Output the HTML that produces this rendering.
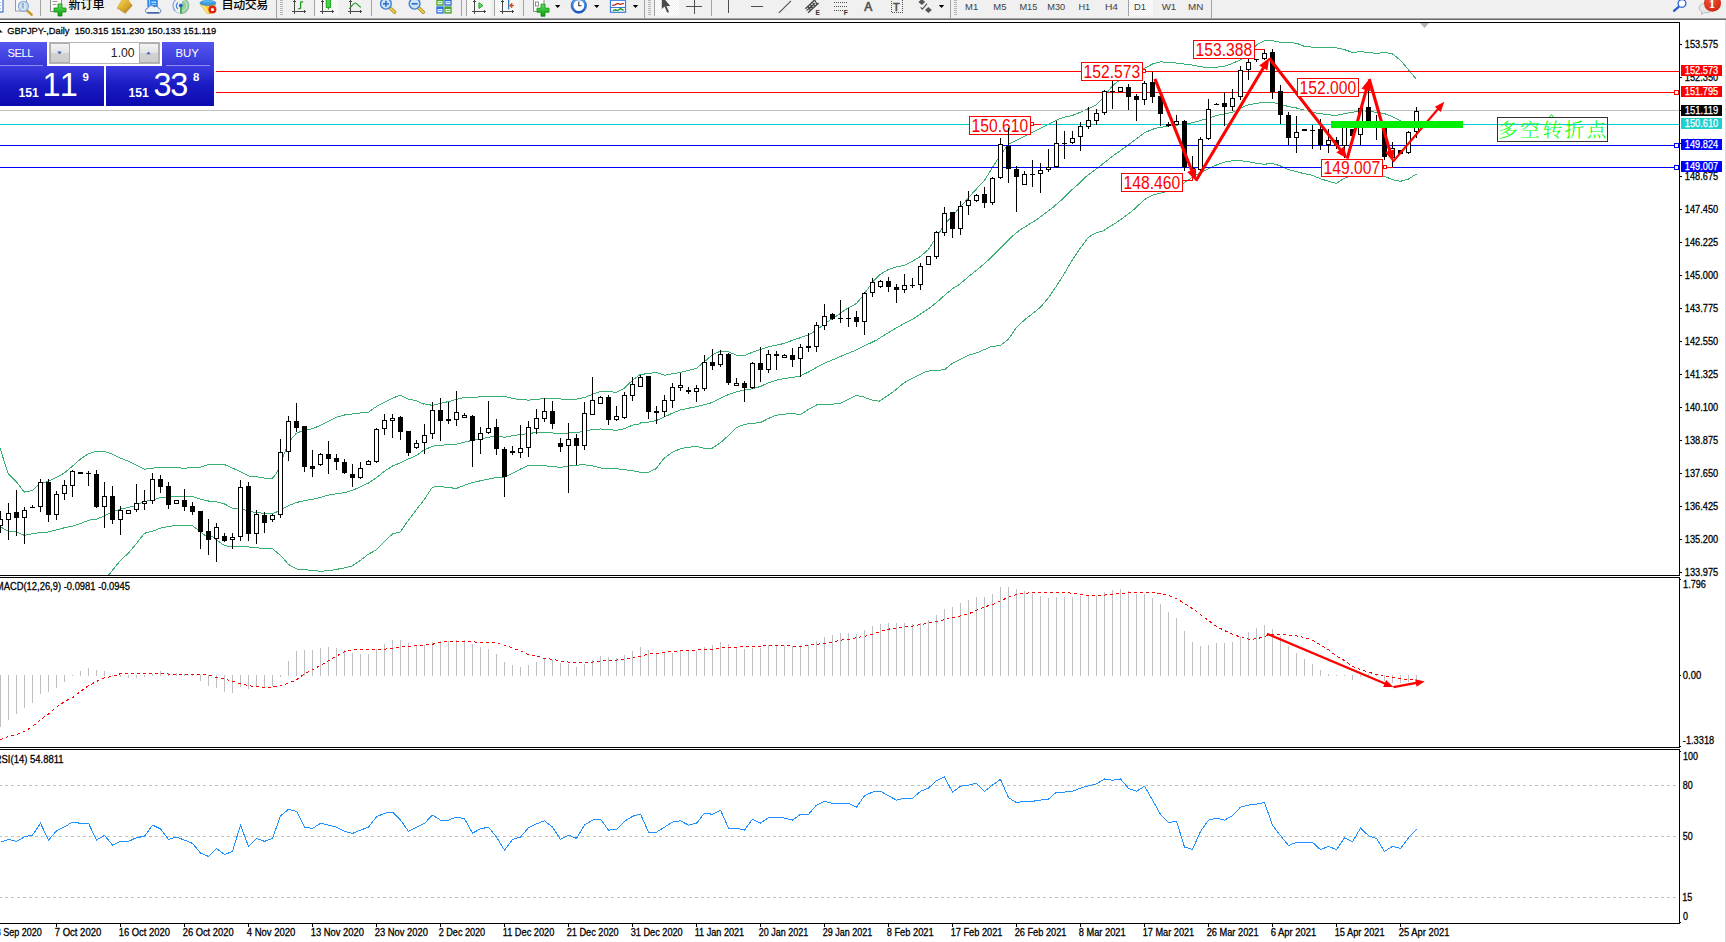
<!DOCTYPE html>
<html><head><meta charset="utf-8"><title>GBPJPY Daily</title>
<style>
html,body{margin:0;padding:0;background:#fff;}
body{width:1726px;height:942px;overflow:hidden;position:relative;font-family:"Liberation Sans","Noto Sans CJK SC",sans-serif;}
#tb{position:absolute;left:0;top:0;width:1726px;height:18px;background:#f0f0f0;overflow:hidden}
#tbl1{position:absolute;left:0;top:18px;width:1726px;height:1px;background:#a4a4a4}
#tbl2{position:absolute;left:0;top:19px;width:1726px;height:1px;background:#696969}
#redge{position:absolute;left:1725px;top:20px;width:1px;height:922px;background:#dcdcdc}
.t{position:absolute;white-space:nowrap;color:#000;font-size:12px;line-height:12px;font-weight:500}
.tf{position:absolute;white-space:nowrap;color:#444;font-size:10px;line-height:10px;top:1.5px}
#oct{position:absolute;left:0;top:42px;width:214px;height:64px;}
#oct div{position:absolute;box-sizing:border-box}
</style></head><body>
<svg id="chart" width="1726" height="942" viewBox="0 0 1726 942" style="position:absolute;left:0;top:0" font-family='"Liberation Sans", "Noto Sans CJK SC", sans-serif'>
<style>.bt text, text.bt{stroke:#000;stroke-width:0.28px}</style>
<defs>
<clipPath id="cm"><rect x="0" y="23" width="1679" height="552"/></clipPath>
<clipPath id="c2"><rect x="0" y="578" width="1679" height="169"/></clipPath>
<clipPath id="c3"><rect x="0" y="750" width="1679" height="173"/></clipPath>
</defs>
<g shape-rendering="crispEdges" fill="#000">
<rect x="0" y="22" width="1680" height="1"/>
<rect x="1679" y="22" width="1" height="902"/>
<rect x="0" y="575" width="1680" height="1"/>
<rect x="0" y="577" width="1680" height="1"/>
<rect x="0" y="747" width="1680" height="1"/>
<rect x="0" y="749" width="1680" height="1"/>
<rect x="0" y="923" width="1680" height="1"/>
<rect x="1679" y="576" width="1" height="1" fill="#fff"/><rect x="1679" y="748" width="1" height="1" fill="#fff"/>
</g>
<g clip-path="url(#cm)">
<polyline points="0.0,448.0 8.1,473.4 16.4,481.9 24.4,492.1 32.5,490.4 40.3,483.2 48.4,481.5 56.5,477.3 64.3,473.0 72.4,466.2 80.5,459.0 88.6,453.7 96.4,451.4 104.5,451.4 112.6,454.3 120.4,458.1 128.5,461.3 136.5,465.4 144.4,469.2 152.5,468.1 160.5,467.5 168.4,467.1 176.5,467.7 184.5,468.3 192.6,467.5 200.5,467.1 208.5,464.5 216.6,464.3 224.5,464.5 232.4,468.1 240.5,471.7 248.5,476.0 256.4,476.8 264.5,478.1 272.5,478.3 276.3,473.4 280.4,464.9 284.4,453.3 288.4,443.7 292.7,437.3 296.5,433.1 304.4,430.3 312.4,428.8 320.5,425.2 328.4,421.4 336.4,417.2 344.5,415.0 352.4,414.0 360.4,412.9 368.5,412.3 376.4,406.5 384.4,402.3 392.5,398.1 400.4,395.3 408.4,399.1 416.5,400.6 424.0,404.3 424.4,403.8 432.5,405.4 440.4,403.3 448.4,401.6 456.5,399.4 464.3,397.5 472.4,397.3 480.5,396.9 488.3,396.5 496.4,396.5 504.5,396.5 512.6,398.4 520.4,399.7 528.5,400.1 536.6,399.4 544.4,398.4 552.5,398.6 560.5,399.0 568.4,399.4 576.5,399.2 584.5,397.5 592.4,394.3 600.5,391.6 608.5,391.6 616.6,392.4 624.5,388.0 632.5,380.3 640.5,374.2 640.6,374.6 648.5,373.4 656.4,372.5 664.5,375.3 672.5,373.8 680.4,372.3 688.5,370.4 696.5,368.3 704.4,361.7 712.4,354.7 720.5,351.1 728.4,351.9 736.4,355.1 744.5,355.7 752.4,352.1 760.4,349.4 768.5,346.8 776.4,345.1 784.4,343.4 792.5,340.2 800.4,337.7 808.4,334.9 816.5,330.3 824.4,323.9 832.4,318.6 840.5,313.3 848.0,307.8 848.4,308.0 856.5,303.5 864.4,294.0 872.4,282.3 880.5,274.2 888.3,269.5 896.4,267.0 904.5,265.3 912.3,261.5 920.4,256.4 928.5,249.4 936.6,236.6 944.4,224.9 952.5,215.4 960.6,206.9 968.4,197.8 976.5,188.8 984.5,180.3 992.4,167.6 1000.5,154.9 1008.5,144.2 1060.0,118.6 1064.5,117.1 1072.5,115.4 1080.4,112.3 1088.5,108.6 1096.5,104.8 1104.4,96.3 1112.5,85.7 1120.5,79.3 1128.4,75.1 1136.4,71.3 1144.5,68.3 1152.4,64.0 1160.4,61.9 1168.5,62.3 1176.4,63.0 1184.4,64.0 1192.5,65.1 1200.4,66.6 1208.4,67.7 1216.5,67.2 1224.4,66.2 1232.4,63.4 1240.5,59.8 1248.4,54.9 1256.4,44.9 1264.5,40.7 1272.0,40.7 1272.4,40.7 1280.5,42.2 1288.4,42.6 1296.4,43.2 1304.5,46.4 1312.3,47.1 1320.4,47.5 1328.5,47.5 1336.3,47.9 1344.4,49.6 1352.5,52.4 1360.6,51.7 1368.4,52.4 1376.5,53.4 1384.6,52.4 1392.4,53.9 1400.5,60.2 1408.5,69.8 1416.4,79.3" fill="none" stroke="#38ae70" stroke-width="1" shape-rendering="crispEdges"/>
<polyline points="0.0,526.5 8.1,531.2 16.4,532.0 24.4,535.4 32.5,533.7 40.3,532.5 48.4,532.0 56.5,529.9 64.3,527.8 72.4,526.1 80.5,523.6 88.6,520.2 96.4,519.1 104.5,515.9 112.6,511.7 120.4,509.1 128.5,507.4 136.5,505.3 144.4,501.5 152.5,500.2 160.5,497.4 168.4,497.2 176.5,496.2 184.5,496.2 192.6,496.4 200.5,499.3 208.5,501.0 212.0,501.0 216.5,501.9 224.5,504.0 232.4,508.1 240.5,508.7 248.5,511.2 256.4,512.5 264.5,513.4 272.5,513.4 280.4,510.6 284.2,508.1 288.4,505.7 296.5,502.5 304.4,500.6 312.4,499.3 320.5,497.4 328.4,495.1 336.4,493.8 344.5,492.6 352.4,490.4 360.4,486.8 368.5,483.0 376.4,477.7 384.4,471.3 392.5,466.0 400.4,462.8 408.4,459.0 416.5,455.4 424.0,450.0 432.5,446.2 440.4,445.3 448.4,444.7 456.5,444.2 464.3,442.1 472.4,440.4 480.5,438.9 488.3,437.2 496.4,436.2 504.5,437.2 512.6,435.8 520.4,434.5 528.5,433.6 536.6,432.4 544.4,432.4 552.5,433.0 560.5,433.6 568.4,433.0 576.5,432.4 584.5,431.5 592.4,429.4 600.5,429.0 608.5,429.8 616.6,430.2 624.5,428.7 632.5,425.1 640.5,423.7 640.6,423.0 648.5,422.2 656.4,420.5 664.5,416.9 672.5,413.1 680.4,409.9 688.5,408.2 696.5,406.7 704.4,404.6 712.4,402.5 720.5,398.2 728.4,394.6 736.4,391.8 744.5,390.1 752.4,388.7 760.4,386.5 768.5,382.7 776.4,380.2 784.4,378.5 792.5,377.4 800.4,375.9 808.4,372.1 816.5,367.4 824.4,363.2 832.4,360.0 840.5,356.4 848.4,353.2 856.0,350.0 876.7,340.0 880.5,337.5 888.3,332.8 896.4,327.9 904.5,323.3 912.3,319.4 920.4,314.1 928.5,308.8 936.6,302.5 944.4,295.4 952.5,288.7 960.0,284.0 970.6,274.9 981.2,266.4 991.9,256.8 1002.5,246.2 1013.1,235.6 1019.5,230.3 1028.0,225.0 1036.5,219.7 1045.0,213.3 1053.5,206.9 1062.0,199.5 1070.5,191.0 1079.0,183.6 1085.5,177.0 1098.2,167.5 1113.1,155.8 1128.0,145.2 1144.9,132.4 1155.6,128.2 1168.5,126.1 1187.4,123.9 1200.2,120.7 1217.1,115.4 1232.4,112.3 1240.5,108.0 1248.4,104.8 1256.4,103.3 1264.5,102.3 1272.0,102.3 1272.4,102.3 1280.5,104.4 1288.4,106.5 1296.4,108.0 1304.5,110.1 1312.3,112.3 1320.4,113.7 1328.5,114.8 1336.3,115.4 1344.4,113.7 1352.5,112.3 1360.6,110.8 1368.4,111.2 1376.5,112.3 1384.6,113.7 1392.4,116.5 1400.5,120.7 1408.5,123.9 1416.4,126.5" fill="none" stroke="#38ae70" stroke-width="1" shape-rendering="crispEdges"/>
<polyline points="107.2,576.4 109.4,574.3 112.6,570.1 120.4,560.5 128.5,553.1 136.5,543.5 144.4,533.3 152.5,531.2 160.5,528.2 168.4,526.5 176.5,525.3 184.5,525.3 192.6,525.7 200.5,531.8 208.5,538.2 212.0,536.1 216.5,539.7 224.5,545.6 232.4,547.1 240.5,546.3 248.5,546.9 256.4,547.8 264.5,548.4 272.5,548.8 280.4,555.2 288.4,564.3 296.5,569.0 304.4,569.6 312.4,570.5 320.5,571.3 328.4,570.7 336.4,569.4 344.5,567.9 352.4,565.8 360.4,560.5 368.5,554.1 376.4,549.9 384.4,541.4 392.5,534.0 400.4,531.8 408.4,520.2 416.5,509.5 424.0,499.9 432.5,487.1 440.4,486.5 448.4,487.6 456.5,488.4 464.3,485.4 472.4,482.5 480.5,480.8 488.3,479.1 496.4,477.6 504.5,477.0 512.6,473.3 520.4,469.1 528.5,465.3 536.6,465.1 544.4,465.9 552.5,466.3 560.5,467.6 568.4,465.9 576.5,465.1 584.5,464.8 592.4,465.9 600.5,468.0 608.5,468.5 616.6,468.7 624.5,469.7 632.5,470.8 640.6,472.3 648.4,472.3 656.1,468.7 663.7,458.5 672.6,452.1 681.6,448.3 695.6,446.3 704.5,448.3 712.2,448.3 722.4,441.2 728.4,435.4 736.4,427.5 744.5,424.3 752.4,423.3 760.4,422.6 768.5,418.4 776.4,415.2 784.4,414.1 792.5,413.5 800.4,414.6 808.4,409.5 816.5,405.0 824.4,404.6 832.4,404.2 840.5,403.1 848.4,399.3 856.0,395.4 862.6,396.6 871.5,399.9 879.1,401.2 883.2,398.6 892.7,392.2 904.4,382.6 916.1,376.3 925.7,371.6 933.1,370.3 944.3,369.9 952.2,363.5 960.7,359.3 969.2,355.0 976.6,352.9 984.1,349.7 991.5,346.5 1000.4,345.5 1008.5,339.1 1016.5,327.4 1024.4,320.0 1032.5,313.6 1040.5,307.2 1048.4,297.7 1056.5,286.0 1064.5,273.3 1072.6,259.5 1080.5,247.8 1088.5,237.2 1096.6,232.5 1102.5,231.2 1117.3,222.0 1132.2,211.0 1144.9,199.3 1152.4,195.1 1161.9,192.9 1172.6,189.8 1183.2,183.4 1195.9,174.9 1208.7,168.5 1217.1,164.7 1224.4,162.2 1232.4,160.7 1240.5,160.7 1248.4,161.7 1256.4,163.2 1264.5,164.3 1272.0,163.2 1280.5,166.0 1288.4,169.6 1296.4,171.7 1304.5,173.8 1312.3,175.3 1320.4,178.7 1328.5,181.3 1336.3,183.4 1344.4,178.1 1356.9,173.8 1371.8,173.8 1384.6,176.4 1392.4,179.6 1400.5,181.3 1408.5,179.1 1416.4,174.0" fill="none" stroke="#38ae70" stroke-width="1" shape-rendering="crispEdges"/>
<g shape-rendering="crispEdges">
<rect x="0" y="110" width="1679" height="1" fill="#c0c0c0"/>
<rect x="216" y="71" width="1463" height="1" fill="#ff0000"/>
<rect x="216" y="92" width="1463" height="1" fill="#ff0000"/>
<rect x="0" y="124" width="1679" height="1" fill="#00ced1"/>
<rect x="0" y="145" width="1679" height="1" fill="#0000ff"/>
<rect x="0" y="167" width="1679" height="1" fill="#0000ff"/>
</g>
<g shape-rendering="crispEdges">
<rect x="0" y="511" width="1" height="22" fill="#000"/>
<rect x="-2" y="519" width="5" height="7" fill="#000"/>
<rect x="-1" y="520" width="3" height="5" fill="#fff"/>
<rect x="8" y="503" width="1" height="37" fill="#000"/>
<rect x="6" y="513" width="5" height="7" fill="#000"/>
<rect x="7" y="514" width="3" height="5" fill="#fff"/>
<rect x="16" y="490" width="1" height="46" fill="#000"/>
<rect x="14" y="512" width="5" height="6" fill="#000"/>
<rect x="24" y="507" width="1" height="37" fill="#000"/>
<rect x="22" y="510" width="5" height="8" fill="#000"/>
<rect x="23" y="511" width="3" height="6" fill="#fff"/>
<rect x="32" y="505" width="1" height="3" fill="#000"/>
<rect x="30" y="507" width="5" height="1" fill="#000"/>
<rect x="40" y="479" width="1" height="33" fill="#000"/>
<rect x="38" y="482" width="5" height="25" fill="#000"/>
<rect x="39" y="483" width="3" height="23" fill="#fff"/>
<rect x="48" y="479" width="1" height="43" fill="#000"/>
<rect x="46" y="482" width="5" height="33" fill="#000"/>
<rect x="56" y="491" width="1" height="29" fill="#000"/>
<rect x="54" y="494" width="5" height="21" fill="#000"/>
<rect x="55" y="495" width="3" height="19" fill="#fff"/>
<rect x="64" y="480" width="1" height="20" fill="#000"/>
<rect x="62" y="485" width="5" height="9" fill="#000"/>
<rect x="63" y="486" width="3" height="7" fill="#fff"/>
<rect x="72" y="470" width="1" height="27" fill="#000"/>
<rect x="70" y="471" width="5" height="15" fill="#000"/>
<rect x="71" y="472" width="3" height="13" fill="#fff"/>
<rect x="80" y="472" width="1" height="2" fill="#000"/>
<rect x="78" y="472" width="5" height="2" fill="#000"/>
<rect x="88" y="471" width="1" height="15" fill="#000"/>
<rect x="86" y="473" width="5" height="1" fill="#000"/>
<rect x="96" y="470" width="1" height="38" fill="#000"/>
<rect x="94" y="474" width="5" height="33" fill="#000"/>
<rect x="104" y="482" width="1" height="46" fill="#000"/>
<rect x="102" y="496" width="5" height="11" fill="#000"/>
<rect x="103" y="497" width="3" height="9" fill="#fff"/>
<rect x="112" y="486" width="1" height="38" fill="#000"/>
<rect x="110" y="496" width="5" height="24" fill="#000"/>
<rect x="120" y="506" width="1" height="29" fill="#000"/>
<rect x="118" y="510" width="5" height="10" fill="#000"/>
<rect x="119" y="511" width="3" height="8" fill="#fff"/>
<rect x="128" y="510" width="1" height="4" fill="#000"/>
<rect x="126" y="510" width="5" height="4" fill="#000"/>
<rect x="127" y="511" width="3" height="2" fill="#fff"/>
<rect x="136" y="484" width="1" height="28" fill="#000"/>
<rect x="134" y="503" width="5" height="7" fill="#000"/>
<rect x="135" y="504" width="3" height="5" fill="#fff"/>
<rect x="144" y="490" width="1" height="20" fill="#000"/>
<rect x="142" y="501" width="5" height="3" fill="#000"/>
<rect x="143" y="502" width="3" height="1" fill="#fff"/>
<rect x="152" y="473" width="1" height="31" fill="#000"/>
<rect x="150" y="479" width="5" height="22" fill="#000"/>
<rect x="151" y="480" width="3" height="20" fill="#fff"/>
<rect x="160" y="475" width="1" height="18" fill="#000"/>
<rect x="158" y="479" width="5" height="8" fill="#000"/>
<rect x="168" y="482" width="1" height="27" fill="#000"/>
<rect x="166" y="486" width="5" height="19" fill="#000"/>
<rect x="176" y="500" width="1" height="4" fill="#000"/>
<rect x="174" y="500" width="5" height="4" fill="#000"/>
<rect x="175" y="501" width="3" height="2" fill="#fff"/>
<rect x="184" y="489" width="1" height="22" fill="#000"/>
<rect x="182" y="500" width="5" height="7" fill="#000"/>
<rect x="192" y="502" width="1" height="13" fill="#000"/>
<rect x="190" y="506" width="5" height="6" fill="#000"/>
<rect x="200" y="511" width="1" height="38" fill="#000"/>
<rect x="198" y="511" width="5" height="21" fill="#000"/>
<rect x="208" y="519" width="1" height="36" fill="#000"/>
<rect x="206" y="531" width="5" height="9" fill="#000"/>
<rect x="216" y="523" width="1" height="39" fill="#000"/>
<rect x="214" y="527" width="5" height="12" fill="#000"/>
<rect x="215" y="528" width="3" height="10" fill="#fff"/>
<rect x="224" y="533" width="1" height="9" fill="#000"/>
<rect x="222" y="536" width="5" height="5" fill="#000"/>
<rect x="232" y="533" width="1" height="16" fill="#000"/>
<rect x="230" y="537" width="5" height="3" fill="#000"/>
<rect x="231" y="538" width="3" height="1" fill="#fff"/>
<rect x="240" y="480" width="1" height="61" fill="#000"/>
<rect x="238" y="487" width="5" height="50" fill="#000"/>
<rect x="239" y="488" width="3" height="48" fill="#fff"/>
<rect x="248" y="482" width="1" height="59" fill="#000"/>
<rect x="246" y="486" width="5" height="48" fill="#000"/>
<rect x="256" y="510" width="1" height="34" fill="#000"/>
<rect x="254" y="514" width="5" height="20" fill="#000"/>
<rect x="255" y="515" width="3" height="18" fill="#fff"/>
<rect x="264" y="512" width="1" height="21" fill="#000"/>
<rect x="262" y="515" width="5" height="8" fill="#000"/>
<rect x="272" y="514" width="1" height="8" fill="#000"/>
<rect x="270" y="515" width="5" height="5" fill="#000"/>
<rect x="271" y="516" width="3" height="3" fill="#fff"/>
<rect x="280" y="439" width="1" height="79" fill="#000"/>
<rect x="278" y="452" width="5" height="63" fill="#000"/>
<rect x="279" y="453" width="3" height="61" fill="#fff"/>
<rect x="288" y="416" width="1" height="45" fill="#000"/>
<rect x="286" y="421" width="5" height="31" fill="#000"/>
<rect x="287" y="422" width="3" height="29" fill="#fff"/>
<rect x="296" y="403" width="1" height="29" fill="#000"/>
<rect x="294" y="421" width="5" height="7" fill="#000"/>
<rect x="304" y="426" width="1" height="46" fill="#000"/>
<rect x="302" y="426" width="5" height="41" fill="#000"/>
<rect x="312" y="450" width="1" height="27" fill="#000"/>
<rect x="310" y="466" width="5" height="3" fill="#000"/>
<rect x="320" y="453" width="1" height="13" fill="#000"/>
<rect x="318" y="454" width="5" height="11" fill="#000"/>
<rect x="319" y="455" width="3" height="9" fill="#fff"/>
<rect x="328" y="441" width="1" height="33" fill="#000"/>
<rect x="326" y="454" width="5" height="5" fill="#000"/>
<rect x="336" y="454" width="1" height="16" fill="#000"/>
<rect x="334" y="458" width="5" height="4" fill="#000"/>
<rect x="344" y="459" width="1" height="15" fill="#000"/>
<rect x="342" y="462" width="5" height="11" fill="#000"/>
<rect x="352" y="464" width="1" height="23" fill="#000"/>
<rect x="350" y="474" width="5" height="4" fill="#000"/>
<rect x="360" y="462" width="1" height="17" fill="#000"/>
<rect x="358" y="468" width="5" height="10" fill="#000"/>
<rect x="359" y="469" width="3" height="8" fill="#fff"/>
<rect x="368" y="460" width="1" height="5" fill="#000"/>
<rect x="366" y="461" width="5" height="4" fill="#000"/>
<rect x="367" y="462" width="3" height="2" fill="#fff"/>
<rect x="376" y="428" width="1" height="35" fill="#000"/>
<rect x="374" y="429" width="5" height="33" fill="#000"/>
<rect x="375" y="430" width="3" height="31" fill="#fff"/>
<rect x="384" y="414" width="1" height="21" fill="#000"/>
<rect x="382" y="420" width="5" height="9" fill="#000"/>
<rect x="383" y="421" width="3" height="7" fill="#fff"/>
<rect x="392" y="414" width="1" height="24" fill="#000"/>
<rect x="390" y="418" width="5" height="3" fill="#000"/>
<rect x="391" y="419" width="3" height="1" fill="#fff"/>
<rect x="400" y="416" width="1" height="24" fill="#000"/>
<rect x="398" y="417" width="5" height="15" fill="#000"/>
<rect x="408" y="431" width="1" height="25" fill="#000"/>
<rect x="406" y="431" width="5" height="22" fill="#000"/>
<rect x="416" y="440" width="1" height="9" fill="#000"/>
<rect x="414" y="443" width="5" height="5" fill="#000"/>
<rect x="415" y="444" width="3" height="3" fill="#fff"/>
<rect x="424" y="424" width="1" height="30" fill="#000"/>
<rect x="422" y="435" width="5" height="8" fill="#000"/>
<rect x="423" y="436" width="3" height="6" fill="#fff"/>
<rect x="432" y="402" width="1" height="37" fill="#000"/>
<rect x="430" y="410" width="5" height="24" fill="#000"/>
<rect x="431" y="411" width="3" height="22" fill="#fff"/>
<rect x="440" y="398" width="1" height="43" fill="#000"/>
<rect x="438" y="410" width="5" height="11" fill="#000"/>
<rect x="448" y="402" width="1" height="22" fill="#000"/>
<rect x="446" y="419" width="5" height="2" fill="#000"/>
<rect x="456" y="391" width="1" height="35" fill="#000"/>
<rect x="454" y="412" width="5" height="8" fill="#000"/>
<rect x="455" y="413" width="3" height="6" fill="#fff"/>
<rect x="464" y="413" width="1" height="5" fill="#000"/>
<rect x="462" y="415" width="5" height="3" fill="#000"/>
<rect x="463" y="416" width="3" height="1" fill="#fff"/>
<rect x="472" y="415" width="1" height="52" fill="#000"/>
<rect x="470" y="416" width="5" height="25" fill="#000"/>
<rect x="480" y="427" width="1" height="27" fill="#000"/>
<rect x="478" y="433" width="5" height="7" fill="#000"/>
<rect x="479" y="434" width="3" height="5" fill="#fff"/>
<rect x="488" y="401" width="1" height="33" fill="#000"/>
<rect x="486" y="428" width="5" height="5" fill="#000"/>
<rect x="487" y="429" width="3" height="3" fill="#fff"/>
<rect x="496" y="419" width="1" height="36" fill="#000"/>
<rect x="494" y="427" width="5" height="22" fill="#000"/>
<rect x="504" y="447" width="1" height="50" fill="#000"/>
<rect x="502" y="449" width="5" height="28" fill="#000"/>
<rect x="512" y="446" width="1" height="9" fill="#000"/>
<rect x="510" y="451" width="5" height="2" fill="#000"/>
<rect x="520" y="425" width="1" height="33" fill="#000"/>
<rect x="518" y="448" width="5" height="5" fill="#000"/>
<rect x="519" y="449" width="3" height="3" fill="#fff"/>
<rect x="528" y="421" width="1" height="36" fill="#000"/>
<rect x="526" y="427" width="5" height="21" fill="#000"/>
<rect x="527" y="428" width="3" height="19" fill="#fff"/>
<rect x="536" y="409" width="1" height="25" fill="#000"/>
<rect x="534" y="418" width="5" height="11" fill="#000"/>
<rect x="535" y="419" width="3" height="9" fill="#fff"/>
<rect x="544" y="398" width="1" height="24" fill="#000"/>
<rect x="542" y="411" width="5" height="8" fill="#000"/>
<rect x="543" y="412" width="3" height="6" fill="#fff"/>
<rect x="552" y="401" width="1" height="28" fill="#000"/>
<rect x="550" y="411" width="5" height="13" fill="#000"/>
<rect x="560" y="438" width="1" height="14" fill="#000"/>
<rect x="558" y="443" width="5" height="4" fill="#000"/>
<rect x="568" y="423" width="1" height="70" fill="#000"/>
<rect x="566" y="439" width="5" height="7" fill="#000"/>
<rect x="567" y="440" width="3" height="5" fill="#fff"/>
<rect x="576" y="434" width="1" height="31" fill="#000"/>
<rect x="574" y="438" width="5" height="8" fill="#000"/>
<rect x="584" y="402" width="1" height="48" fill="#000"/>
<rect x="582" y="413" width="5" height="33" fill="#000"/>
<rect x="583" y="414" width="3" height="31" fill="#fff"/>
<rect x="592" y="377" width="1" height="38" fill="#000"/>
<rect x="590" y="400" width="5" height="15" fill="#000"/>
<rect x="591" y="401" width="3" height="13" fill="#fff"/>
<rect x="600" y="396" width="1" height="8" fill="#000"/>
<rect x="598" y="397" width="5" height="7" fill="#000"/>
<rect x="599" y="398" width="3" height="5" fill="#fff"/>
<rect x="608" y="395" width="1" height="30" fill="#000"/>
<rect x="606" y="397" width="5" height="23" fill="#000"/>
<rect x="616" y="406" width="1" height="15" fill="#000"/>
<rect x="614" y="416" width="5" height="4" fill="#000"/>
<rect x="615" y="417" width="3" height="2" fill="#fff"/>
<rect x="624" y="392" width="1" height="27" fill="#000"/>
<rect x="622" y="395" width="5" height="23" fill="#000"/>
<rect x="623" y="396" width="3" height="21" fill="#fff"/>
<rect x="632" y="377" width="1" height="24" fill="#000"/>
<rect x="630" y="384" width="5" height="12" fill="#000"/>
<rect x="631" y="385" width="3" height="10" fill="#fff"/>
<rect x="640" y="375" width="1" height="12" fill="#000"/>
<rect x="638" y="377" width="5" height="10" fill="#000"/>
<rect x="639" y="378" width="3" height="8" fill="#fff"/>
<rect x="648" y="376" width="1" height="43" fill="#000"/>
<rect x="646" y="376" width="5" height="36" fill="#000"/>
<rect x="656" y="406" width="1" height="18" fill="#000"/>
<rect x="654" y="411" width="5" height="2" fill="#000"/>
<rect x="664" y="395" width="1" height="22" fill="#000"/>
<rect x="662" y="400" width="5" height="12" fill="#000"/>
<rect x="663" y="401" width="3" height="10" fill="#fff"/>
<rect x="672" y="383" width="1" height="25" fill="#000"/>
<rect x="670" y="387" width="5" height="14" fill="#000"/>
<rect x="671" y="388" width="3" height="12" fill="#fff"/>
<rect x="680" y="373" width="1" height="18" fill="#000"/>
<rect x="678" y="385" width="5" height="3" fill="#000"/>
<rect x="679" y="386" width="3" height="1" fill="#fff"/>
<rect x="688" y="387" width="1" height="7" fill="#000"/>
<rect x="686" y="390" width="5" height="2" fill="#000"/>
<rect x="696" y="385" width="1" height="17" fill="#000"/>
<rect x="694" y="388" width="5" height="4" fill="#000"/>
<rect x="695" y="389" width="3" height="2" fill="#fff"/>
<rect x="704" y="355" width="1" height="36" fill="#000"/>
<rect x="702" y="362" width="5" height="27" fill="#000"/>
<rect x="703" y="363" width="3" height="25" fill="#fff"/>
<rect x="712" y="349" width="1" height="21" fill="#000"/>
<rect x="710" y="362" width="5" height="4" fill="#000"/>
<rect x="720" y="350" width="1" height="17" fill="#000"/>
<rect x="718" y="354" width="5" height="11" fill="#000"/>
<rect x="719" y="355" width="3" height="9" fill="#fff"/>
<rect x="728" y="353" width="1" height="32" fill="#000"/>
<rect x="726" y="354" width="5" height="29" fill="#000"/>
<rect x="736" y="378" width="1" height="8" fill="#000"/>
<rect x="734" y="383" width="5" height="3" fill="#000"/>
<rect x="735" y="384" width="3" height="1" fill="#fff"/>
<rect x="744" y="381" width="1" height="21" fill="#000"/>
<rect x="742" y="383" width="5" height="5" fill="#000"/>
<rect x="752" y="362" width="1" height="27" fill="#000"/>
<rect x="750" y="363" width="5" height="25" fill="#000"/>
<rect x="751" y="364" width="3" height="23" fill="#fff"/>
<rect x="760" y="347" width="1" height="35" fill="#000"/>
<rect x="758" y="363" width="5" height="7" fill="#000"/>
<rect x="768" y="350" width="1" height="23" fill="#000"/>
<rect x="766" y="354" width="5" height="16" fill="#000"/>
<rect x="767" y="355" width="3" height="14" fill="#fff"/>
<rect x="776" y="351" width="1" height="19" fill="#000"/>
<rect x="774" y="354" width="5" height="2" fill="#000"/>
<rect x="784" y="354" width="1" height="4" fill="#000"/>
<rect x="782" y="355" width="5" height="3" fill="#000"/>
<rect x="783" y="356" width="3" height="1" fill="#fff"/>
<rect x="792" y="348" width="1" height="19" fill="#000"/>
<rect x="790" y="355" width="5" height="5" fill="#000"/>
<rect x="800" y="344" width="1" height="33" fill="#000"/>
<rect x="798" y="347" width="5" height="12" fill="#000"/>
<rect x="799" y="348" width="3" height="10" fill="#fff"/>
<rect x="808" y="333" width="1" height="19" fill="#000"/>
<rect x="806" y="346" width="5" height="2" fill="#000"/>
<rect x="816" y="322" width="1" height="30" fill="#000"/>
<rect x="814" y="325" width="5" height="22" fill="#000"/>
<rect x="815" y="326" width="3" height="20" fill="#fff"/>
<rect x="824" y="304" width="1" height="26" fill="#000"/>
<rect x="822" y="316" width="5" height="10" fill="#000"/>
<rect x="823" y="317" width="3" height="8" fill="#fff"/>
<rect x="832" y="313" width="1" height="7" fill="#000"/>
<rect x="830" y="314" width="5" height="5" fill="#000"/>
<rect x="840" y="300" width="1" height="23" fill="#000"/>
<rect x="838" y="318" width="5" height="1" fill="#000"/>
<rect x="848" y="308" width="1" height="19" fill="#000"/>
<rect x="846" y="318" width="5" height="1" fill="#000"/>
<rect x="856" y="311" width="1" height="16" fill="#000"/>
<rect x="854" y="317" width="5" height="5" fill="#000"/>
<rect x="864" y="292" width="1" height="43" fill="#000"/>
<rect x="862" y="293" width="5" height="29" fill="#000"/>
<rect x="863" y="294" width="3" height="27" fill="#fff"/>
<rect x="872" y="278" width="1" height="19" fill="#000"/>
<rect x="870" y="282" width="5" height="11" fill="#000"/>
<rect x="871" y="283" width="3" height="9" fill="#fff"/>
<rect x="880" y="280" width="1" height="8" fill="#000"/>
<rect x="878" y="281" width="5" height="6" fill="#000"/>
<rect x="879" y="282" width="3" height="4" fill="#fff"/>
<rect x="888" y="277" width="1" height="15" fill="#000"/>
<rect x="886" y="281" width="5" height="6" fill="#000"/>
<rect x="896" y="284" width="1" height="19" fill="#000"/>
<rect x="894" y="287" width="5" height="3" fill="#000"/>
<rect x="904" y="274" width="1" height="19" fill="#000"/>
<rect x="902" y="285" width="5" height="5" fill="#000"/>
<rect x="903" y="286" width="3" height="3" fill="#fff"/>
<rect x="912" y="278" width="1" height="10" fill="#000"/>
<rect x="910" y="285" width="5" height="1" fill="#000"/>
<rect x="920" y="263" width="1" height="27" fill="#000"/>
<rect x="918" y="266" width="5" height="19" fill="#000"/>
<rect x="919" y="267" width="3" height="17" fill="#fff"/>
<rect x="928" y="256" width="1" height="9" fill="#000"/>
<rect x="926" y="256" width="5" height="9" fill="#000"/>
<rect x="927" y="257" width="3" height="7" fill="#fff"/>
<rect x="936" y="231" width="1" height="28" fill="#000"/>
<rect x="934" y="232" width="5" height="25" fill="#000"/>
<rect x="935" y="233" width="3" height="23" fill="#fff"/>
<rect x="944" y="207" width="1" height="29" fill="#000"/>
<rect x="942" y="213" width="5" height="20" fill="#000"/>
<rect x="943" y="214" width="3" height="18" fill="#fff"/>
<rect x="952" y="212" width="1" height="26" fill="#000"/>
<rect x="950" y="212" width="5" height="17" fill="#000"/>
<rect x="960" y="201" width="1" height="34" fill="#000"/>
<rect x="958" y="206" width="5" height="23" fill="#000"/>
<rect x="959" y="207" width="3" height="21" fill="#fff"/>
<rect x="968" y="191" width="1" height="24" fill="#000"/>
<rect x="966" y="200" width="5" height="6" fill="#000"/>
<rect x="967" y="201" width="3" height="4" fill="#fff"/>
<rect x="976" y="194" width="1" height="8" fill="#000"/>
<rect x="974" y="195" width="5" height="6" fill="#000"/>
<rect x="975" y="196" width="3" height="4" fill="#fff"/>
<rect x="984" y="187" width="1" height="21" fill="#000"/>
<rect x="982" y="194" width="5" height="9" fill="#000"/>
<rect x="992" y="177" width="1" height="28" fill="#000"/>
<rect x="990" y="178" width="5" height="25" fill="#000"/>
<rect x="991" y="179" width="3" height="23" fill="#fff"/>
<rect x="1000" y="138" width="1" height="41" fill="#000"/>
<rect x="998" y="144" width="5" height="34" fill="#000"/>
<rect x="999" y="145" width="3" height="32" fill="#fff"/>
<rect x="1008" y="128" width="1" height="55" fill="#000"/>
<rect x="1006" y="146" width="5" height="23" fill="#000"/>
<rect x="1016" y="166" width="1" height="46" fill="#000"/>
<rect x="1014" y="169" width="5" height="8" fill="#000"/>
<rect x="1024" y="171" width="1" height="14" fill="#000"/>
<rect x="1022" y="174" width="5" height="11" fill="#000"/>
<rect x="1023" y="175" width="3" height="9" fill="#fff"/>
<rect x="1032" y="160" width="1" height="27" fill="#000"/>
<rect x="1030" y="174" width="5" height="1" fill="#000"/>
<rect x="1040" y="163" width="1" height="30" fill="#000"/>
<rect x="1038" y="170" width="5" height="4" fill="#000"/>
<rect x="1039" y="171" width="3" height="2" fill="#fff"/>
<rect x="1048" y="149" width="1" height="23" fill="#000"/>
<rect x="1046" y="167" width="5" height="3" fill="#000"/>
<rect x="1047" y="168" width="3" height="1" fill="#fff"/>
<rect x="1056" y="121" width="1" height="47" fill="#000"/>
<rect x="1054" y="143" width="5" height="24" fill="#000"/>
<rect x="1055" y="144" width="3" height="22" fill="#fff"/>
<rect x="1064" y="131" width="1" height="28" fill="#000"/>
<rect x="1062" y="143" width="5" height="1" fill="#000"/>
<rect x="1072" y="131" width="1" height="13" fill="#000"/>
<rect x="1070" y="138" width="5" height="5" fill="#000"/>
<rect x="1071" y="139" width="3" height="3" fill="#fff"/>
<rect x="1080" y="122" width="1" height="29" fill="#000"/>
<rect x="1078" y="126" width="5" height="11" fill="#000"/>
<rect x="1079" y="127" width="3" height="9" fill="#fff"/>
<rect x="1088" y="107" width="1" height="22" fill="#000"/>
<rect x="1086" y="120" width="5" height="7" fill="#000"/>
<rect x="1087" y="121" width="3" height="5" fill="#fff"/>
<rect x="1096" y="109" width="1" height="16" fill="#000"/>
<rect x="1094" y="113" width="5" height="8" fill="#000"/>
<rect x="1095" y="114" width="3" height="6" fill="#fff"/>
<rect x="1104" y="90" width="1" height="25" fill="#000"/>
<rect x="1102" y="91" width="5" height="22" fill="#000"/>
<rect x="1103" y="92" width="3" height="20" fill="#fff"/>
<rect x="1112" y="81" width="1" height="28" fill="#000"/>
<rect x="1110" y="91" width="5" height="1" fill="#000"/>
<rect x="1120" y="87" width="1" height="5" fill="#000"/>
<rect x="1118" y="87" width="5" height="5" fill="#000"/>
<rect x="1119" y="88" width="3" height="3" fill="#fff"/>
<rect x="1128" y="84" width="1" height="26" fill="#000"/>
<rect x="1126" y="87" width="5" height="10" fill="#000"/>
<rect x="1136" y="94" width="1" height="27" fill="#000"/>
<rect x="1134" y="96" width="5" height="4" fill="#000"/>
<rect x="1144" y="81" width="1" height="24" fill="#000"/>
<rect x="1142" y="83" width="5" height="17" fill="#000"/>
<rect x="1143" y="84" width="3" height="15" fill="#fff"/>
<rect x="1152" y="72" width="1" height="31" fill="#000"/>
<rect x="1150" y="82" width="5" height="15" fill="#000"/>
<rect x="1160" y="96" width="1" height="30" fill="#000"/>
<rect x="1158" y="96" width="5" height="18" fill="#000"/>
<rect x="1168" y="122" width="1" height="5" fill="#000"/>
<rect x="1166" y="124" width="5" height="2" fill="#000"/>
<rect x="1176" y="115" width="1" height="10" fill="#000"/>
<rect x="1174" y="121" width="5" height="4" fill="#000"/>
<rect x="1175" y="122" width="3" height="2" fill="#fff"/>
<rect x="1184" y="120" width="1" height="51" fill="#000"/>
<rect x="1182" y="121" width="5" height="46" fill="#000"/>
<rect x="1192" y="156" width="1" height="25" fill="#000"/>
<rect x="1190" y="168" width="5" height="1" fill="#000"/>
<rect x="1200" y="137" width="1" height="34" fill="#000"/>
<rect x="1198" y="139" width="5" height="31" fill="#000"/>
<rect x="1199" y="140" width="3" height="29" fill="#fff"/>
<rect x="1208" y="99" width="1" height="41" fill="#000"/>
<rect x="1206" y="109" width="5" height="30" fill="#000"/>
<rect x="1207" y="110" width="3" height="28" fill="#fff"/>
<rect x="1216" y="103" width="1" height="2" fill="#000"/>
<rect x="1214" y="104" width="5" height="1" fill="#000"/>
<rect x="1224" y="92" width="1" height="34" fill="#000"/>
<rect x="1222" y="103" width="5" height="4" fill="#000"/>
<rect x="1232" y="89" width="1" height="22" fill="#000"/>
<rect x="1230" y="98" width="5" height="9" fill="#000"/>
<rect x="1231" y="99" width="3" height="7" fill="#fff"/>
<rect x="1240" y="66" width="1" height="34" fill="#000"/>
<rect x="1238" y="70" width="5" height="27" fill="#000"/>
<rect x="1239" y="71" width="3" height="25" fill="#fff"/>
<rect x="1248" y="58" width="1" height="22" fill="#000"/>
<rect x="1246" y="62" width="5" height="8" fill="#000"/>
<rect x="1247" y="63" width="3" height="6" fill="#fff"/>
<rect x="1256" y="59" width="1" height="3" fill="#000"/>
<rect x="1254" y="59" width="5" height="1" fill="#000"/>
<rect x="1264" y="49" width="1" height="11" fill="#000"/>
<rect x="1262" y="53" width="5" height="6" fill="#000"/>
<rect x="1263" y="54" width="3" height="4" fill="#fff"/>
<rect x="1272" y="49" width="1" height="50" fill="#000"/>
<rect x="1270" y="52" width="5" height="40" fill="#000"/>
<rect x="1280" y="85" width="1" height="39" fill="#000"/>
<rect x="1278" y="91" width="5" height="24" fill="#000"/>
<rect x="1288" y="112" width="1" height="33" fill="#000"/>
<rect x="1286" y="115" width="5" height="23" fill="#000"/>
<rect x="1296" y="116" width="1" height="37" fill="#000"/>
<rect x="1294" y="132" width="5" height="6" fill="#000"/>
<rect x="1295" y="133" width="3" height="4" fill="#fff"/>
<rect x="1304" y="129" width="1" height="2" fill="#000"/>
<rect x="1302" y="129" width="5" height="2" fill="#000"/>
<rect x="1312" y="125" width="1" height="24" fill="#000"/>
<rect x="1310" y="130" width="5" height="1" fill="#000"/>
<rect x="1320" y="119" width="1" height="31" fill="#000"/>
<rect x="1318" y="129" width="5" height="16" fill="#000"/>
<rect x="1328" y="129" width="1" height="24" fill="#000"/>
<rect x="1326" y="140" width="5" height="5" fill="#000"/>
<rect x="1327" y="141" width="3" height="3" fill="#fff"/>
<rect x="1336" y="137" width="1" height="12" fill="#000"/>
<rect x="1334" y="140" width="5" height="6" fill="#000"/>
<rect x="1344" y="122" width="1" height="36" fill="#000"/>
<rect x="1342" y="124" width="5" height="22" fill="#000"/>
<rect x="1343" y="125" width="3" height="20" fill="#fff"/>
<rect x="1352" y="129" width="1" height="7" fill="#000"/>
<rect x="1350" y="129" width="5" height="7" fill="#000"/>
<rect x="1360" y="107" width="1" height="38" fill="#000"/>
<rect x="1358" y="108" width="5" height="27" fill="#000"/>
<rect x="1359" y="109" width="3" height="25" fill="#fff"/>
<rect x="1368" y="88" width="1" height="34" fill="#000"/>
<rect x="1366" y="107" width="5" height="15" fill="#000"/>
<rect x="1376" y="115" width="1" height="25" fill="#000"/>
<rect x="1374" y="122" width="5" height="1" fill="#000"/>
<rect x="1384" y="122" width="1" height="38" fill="#000"/>
<rect x="1382" y="122" width="5" height="35" fill="#000"/>
<rect x="1392" y="142" width="1" height="25" fill="#000"/>
<rect x="1390" y="148" width="5" height="10" fill="#000"/>
<rect x="1391" y="149" width="3" height="8" fill="#fff"/>
<rect x="1400" y="150" width="1" height="4" fill="#000"/>
<rect x="1398" y="150" width="5" height="4" fill="#000"/>
<rect x="1408" y="131" width="1" height="23" fill="#000"/>
<rect x="1406" y="132" width="5" height="21" fill="#000"/>
<rect x="1407" y="133" width="3" height="19" fill="#fff"/>
<rect x="1416" y="107" width="1" height="31" fill="#000"/>
<rect x="1414" y="111" width="5" height="21" fill="#000"/>
<rect x="1415" y="112" width="3" height="19" fill="#fff"/>
</g>
<line x1="1154.9" y1="78.9" x2="1192.4" y2="172.0" stroke="#ff0000" stroke-width="3.1"/><polygon points="1195.9,180.8 1187.2,171.9 1196.1,168.3" fill="#ff0000"/>
<line x1="1195.9" y1="180.8" x2="1264.3" y2="66.3" stroke="#ff0000" stroke-width="3.1"/><polygon points="1269.2,58.1 1267.4,70.4 1259.2,65.5" fill="#ff0000"/>
<line x1="1269.2" y1="58.1" x2="1341.4" y2="151.1" stroke="#ff0000" stroke-width="3.1"/><polygon points="1347.2,158.6 1336.4,152.5 1343.9,146.6" fill="#ff0000"/>
<line x1="1347.2" y1="158.6" x2="1366.7" y2="88.2" stroke="#ff0000" stroke-width="3.1"/><polygon points="1369.2,79.0 1370.8,91.4 1361.5,88.8" fill="#ff0000"/>
<line x1="1369.2" y1="79.0" x2="1390.3" y2="152.7" stroke="#ff0000" stroke-width="3.1"/><polygon points="1392.9,161.8 1385.1,152.1 1394.4,149.4" fill="#ff0000"/>
<line x1="1392.9" y1="161.8" x2="1439.1" y2="107.8" stroke="#ff0000" stroke-width="2.1"/><polygon points="1444.3,101.7 1440.8,111.9 1434.8,106.7" fill="#ff0000"/>
<rect x="1331" y="121" width="132" height="7" fill="#00ee00" shape-rendering="crispEdges"/>
<rect x="1081.5" y="62.5" width="61" height="18" fill="#fff" stroke="#ff0000" stroke-width="1" shape-rendering="crispEdges"/><text x="1083.6" y="78" font-size="17.6" fill="#ff0000" textLength="56.6" lengthAdjust="spacingAndGlyphs">152.573</text>
<rect x="1193.5" y="40.5" width="61" height="18" fill="#fff" stroke="#ff0000" stroke-width="1" shape-rendering="crispEdges"/><text x="1195.6" y="56" font-size="17.6" fill="#ff0000" textLength="56.6" lengthAdjust="spacingAndGlyphs">153.388</text>
<rect x="1121.5" y="173.5" width="61" height="18" fill="#fff" stroke="#ff0000" stroke-width="1" shape-rendering="crispEdges"/><text x="1123.6" y="189" font-size="17.6" fill="#ff0000" textLength="56.6" lengthAdjust="spacingAndGlyphs">148.460</text>
<rect x="1297.5" y="78.5" width="61" height="18" fill="#fff" stroke="#ff0000" stroke-width="1" shape-rendering="crispEdges"/><text x="1299.6" y="94" font-size="17.6" fill="#ff0000" textLength="56.6" lengthAdjust="spacingAndGlyphs">152.000</text>
<rect x="1321.5" y="159.5" width="61" height="17" fill="#fff" stroke="#ff0000" stroke-width="1" shape-rendering="crispEdges"/><text x="1323.6" y="174" font-size="17.6" fill="#ff0000" textLength="56.6" lengthAdjust="spacingAndGlyphs">149.007</text>
<rect x="969.5" y="116.5" width="61" height="18" fill="#fff" stroke="#ff0000" stroke-width="1" shape-rendering="crispEdges"/><text x="971.6" y="132" font-size="17.6" fill="#ff0000" textLength="56.6" lengthAdjust="spacingAndGlyphs">150.610</text>
<g shape-rendering="crispEdges" fill="#ff0000">
<rect x="1254" y="49" width="11" height="1"/>
<rect x="1182" y="180" width="11" height="1"/><rect x="1192" y="172" width="1" height="9"/>
<rect x="1382" y="167" width="11" height="1"/>
<rect x="1031" y="124" width="10" height="1"/>
<rect x="1008" y="128" width="1" height="7" fill="#000"/>
</g>
<rect x="1142.5" y="69.5" width="3" height="3" fill="#fff" stroke="#ff0000" stroke-width="1" shape-rendering="crispEdges"/>
<rect x="1383.5" y="165.5" width="3" height="3" fill="#fff" stroke="#ff0000" stroke-width="1" shape-rendering="crispEdges"/>
<rect x="1030.5" y="122.5" width="3" height="3" fill="#fff" stroke="#ff0000" stroke-width="1" shape-rendering="crispEdges"/>
<rect x="1674.5" y="90.5" width="4" height="4" fill="#fff" stroke="#ff0000" stroke-width="1" shape-rendering="crispEdges"/>
<rect x="1674.5" y="143.5" width="4" height="4" fill="#fff" stroke="#0000ff" stroke-width="1" shape-rendering="crispEdges"/>
<rect x="1674.5" y="165.5" width="4" height="4" fill="#fff" stroke="#0000ff" stroke-width="1" shape-rendering="crispEdges"/>
<rect x="1497.5" y="117.5" width="110" height="24" fill="none" stroke="#333" stroke-width="1" shape-rendering="crispEdges"/>
<text x="1498" y="136.8" font-size="19.6" fill="#00ff00" font-family='"Noto Serif CJK SC","Noto Sans CJK SC",serif' font-weight="300" textLength="108.4" lengthAdjust="spacing">多空转折点</text>
<path d="M1549.5 117 L1551.5 114.5 L1553.5 117" stroke="#00ee00" fill="none" stroke-width="1"/>
<polygon points="1420,23 1429,23 1424.5,28" fill="#b4b4b4"/>
</g>
<g clip-path="url(#c2)">
<g shape-rendering="crispEdges" fill="#c0c0c0">
<rect x="0" y="675" width="1" height="52"/>
<rect x="8" y="675" width="1" height="45"/>
<rect x="16" y="675" width="1" height="39"/>
<rect x="24" y="675" width="1" height="33"/>
<rect x="32" y="675" width="1" height="28"/>
<rect x="40" y="675" width="1" height="19"/>
<rect x="48" y="675" width="1" height="17"/>
<rect x="56" y="675" width="1" height="13"/>
<rect x="64" y="675" width="1" height="7"/>
<rect x="72" y="675" width="1" height="1"/>
<rect x="80" y="671" width="1" height="5"/>
<rect x="88" y="668" width="1" height="8"/>
<rect x="96" y="670" width="1" height="6"/>
<rect x="104" y="671" width="1" height="5"/>
<rect x="112" y="675" width="1" height="1"/>
<rect x="120" y="675" width="1" height="2"/>
<rect x="128" y="675" width="1" height="3"/>
<rect x="136" y="675" width="1" height="3"/>
<rect x="144" y="675" width="1" height="2"/>
<rect x="152" y="674" width="1" height="2"/>
<rect x="160" y="671" width="1" height="5"/>
<rect x="168" y="673" width="1" height="3"/>
<rect x="176" y="673" width="1" height="3"/>
<rect x="184" y="674" width="1" height="2"/>
<rect x="192" y="675" width="1" height="1"/>
<rect x="200" y="675" width="1" height="6"/>
<rect x="208" y="675" width="1" height="11"/>
<rect x="216" y="675" width="1" height="13"/>
<rect x="224" y="675" width="1" height="17"/>
<rect x="232" y="675" width="1" height="18"/>
<rect x="240" y="675" width="1" height="12"/>
<rect x="248" y="675" width="1" height="14"/>
<rect x="256" y="675" width="1" height="12"/>
<rect x="264" y="675" width="1" height="13"/>
<rect x="272" y="675" width="1" height="11"/>
<rect x="280" y="675" width="1" height="2"/>
<rect x="288" y="661" width="1" height="15"/>
<rect x="296" y="651" width="1" height="25"/>
<rect x="304" y="650" width="1" height="26"/>
<rect x="312" y="650" width="1" height="26"/>
<rect x="320" y="648" width="1" height="28"/>
<rect x="328" y="647" width="1" height="29"/>
<rect x="336" y="648" width="1" height="28"/>
<rect x="344" y="650" width="1" height="26"/>
<rect x="352" y="653" width="1" height="23"/>
<rect x="360" y="654" width="1" height="22"/>
<rect x="368" y="654" width="1" height="22"/>
<rect x="376" y="649" width="1" height="27"/>
<rect x="384" y="644" width="1" height="32"/>
<rect x="392" y="640" width="1" height="36"/>
<rect x="400" y="640" width="1" height="36"/>
<rect x="408" y="643" width="1" height="33"/>
<rect x="416" y="645" width="1" height="31"/>
<rect x="424" y="645" width="1" height="31"/>
<rect x="432" y="642" width="1" height="34"/>
<rect x="440" y="641" width="1" height="35"/>
<rect x="448" y="641" width="1" height="35"/>
<rect x="456" y="640" width="1" height="36"/>
<rect x="464" y="640" width="1" height="36"/>
<rect x="472" y="644" width="1" height="32"/>
<rect x="480" y="647" width="1" height="29"/>
<rect x="488" y="649" width="1" height="27"/>
<rect x="496" y="654" width="1" height="22"/>
<rect x="504" y="662" width="1" height="14"/>
<rect x="512" y="665" width="1" height="11"/>
<rect x="520" y="667" width="1" height="9"/>
<rect x="528" y="665" width="1" height="11"/>
<rect x="536" y="662" width="1" height="14"/>
<rect x="544" y="659" width="1" height="17"/>
<rect x="552" y="660" width="1" height="16"/>
<rect x="560" y="663" width="1" height="13"/>
<rect x="568" y="664" width="1" height="12"/>
<rect x="576" y="667" width="1" height="9"/>
<rect x="584" y="664" width="1" height="12"/>
<rect x="592" y="660" width="1" height="16"/>
<rect x="600" y="656" width="1" height="20"/>
<rect x="608" y="657" width="1" height="19"/>
<rect x="616" y="658" width="1" height="18"/>
<rect x="624" y="655" width="1" height="21"/>
<rect x="632" y="651" width="1" height="25"/>
<rect x="640" y="647" width="1" height="29"/>
<rect x="648" y="650" width="1" height="26"/>
<rect x="656" y="653" width="1" height="23"/>
<rect x="664" y="653" width="1" height="23"/>
<rect x="672" y="653" width="1" height="23"/>
<rect x="680" y="651" width="1" height="25"/>
<rect x="688" y="651" width="1" height="25"/>
<rect x="696" y="651" width="1" height="25"/>
<rect x="704" y="647" width="1" height="29"/>
<rect x="712" y="645" width="1" height="31"/>
<rect x="720" y="642" width="1" height="34"/>
<rect x="728" y="644" width="1" height="32"/>
<rect x="736" y="647" width="1" height="29"/>
<rect x="744" y="649" width="1" height="27"/>
<rect x="752" y="648" width="1" height="28"/>
<rect x="760" y="648" width="1" height="28"/>
<rect x="768" y="645" width="1" height="31"/>
<rect x="776" y="645" width="1" height="31"/>
<rect x="784" y="646" width="1" height="30"/>
<rect x="792" y="646" width="1" height="30"/>
<rect x="800" y="645" width="1" height="31"/>
<rect x="808" y="645" width="1" height="31"/>
<rect x="816" y="641" width="1" height="35"/>
<rect x="824" y="637" width="1" height="39"/>
<rect x="832" y="635" width="1" height="41"/>
<rect x="840" y="633" width="1" height="43"/>
<rect x="848" y="633" width="1" height="43"/>
<rect x="856" y="634" width="1" height="42"/>
<rect x="864" y="630" width="1" height="46"/>
<rect x="872" y="626" width="1" height="50"/>
<rect x="880" y="624" width="1" height="52"/>
<rect x="888" y="623" width="1" height="53"/>
<rect x="896" y="623" width="1" height="53"/>
<rect x="904" y="623" width="1" height="53"/>
<rect x="912" y="624" width="1" height="52"/>
<rect x="920" y="623" width="1" height="53"/>
<rect x="928" y="620" width="1" height="56"/>
<rect x="936" y="615" width="1" height="61"/>
<rect x="944" y="609" width="1" height="67"/>
<rect x="952" y="607" width="1" height="69"/>
<rect x="960" y="603" width="1" height="73"/>
<rect x="968" y="600" width="1" height="76"/>
<rect x="976" y="597" width="1" height="79"/>
<rect x="984" y="597" width="1" height="79"/>
<rect x="992" y="594" width="1" height="82"/>
<rect x="1000" y="587" width="1" height="89"/>
<rect x="1008" y="587" width="1" height="89"/>
<rect x="1016" y="589" width="1" height="87"/>
<rect x="1024" y="591" width="1" height="85"/>
<rect x="1032" y="594" width="1" height="82"/>
<rect x="1040" y="596" width="1" height="80"/>
<rect x="1048" y="598" width="1" height="78"/>
<rect x="1056" y="597" width="1" height="79"/>
<rect x="1064" y="597" width="1" height="79"/>
<rect x="1072" y="597" width="1" height="79"/>
<rect x="1080" y="596" width="1" height="80"/>
<rect x="1088" y="596" width="1" height="80"/>
<rect x="1096" y="596" width="1" height="80"/>
<rect x="1104" y="592" width="1" height="84"/>
<rect x="1112" y="590" width="1" height="86"/>
<rect x="1120" y="589" width="1" height="87"/>
<rect x="1128" y="591" width="1" height="85"/>
<rect x="1136" y="594" width="1" height="82"/>
<rect x="1144" y="594" width="1" height="82"/>
<rect x="1152" y="598" width="1" height="78"/>
<rect x="1160" y="604" width="1" height="72"/>
<rect x="1168" y="612" width="1" height="64"/>
<rect x="1176" y="618" width="1" height="58"/>
<rect x="1184" y="631" width="1" height="45"/>
<rect x="1192" y="642" width="1" height="34"/>
<rect x="1200" y="646" width="1" height="30"/>
<rect x="1208" y="645" width="1" height="31"/>
<rect x="1216" y="643" width="1" height="33"/>
<rect x="1224" y="643" width="1" height="33"/>
<rect x="1232" y="642" width="1" height="34"/>
<rect x="1240" y="637" width="1" height="39"/>
<rect x="1248" y="632" width="1" height="44"/>
<rect x="1256" y="628" width="1" height="48"/>
<rect x="1264" y="625" width="1" height="51"/>
<rect x="1272" y="629" width="1" height="47"/>
<rect x="1280" y="636" width="1" height="40"/>
<rect x="1288" y="646" width="1" height="30"/>
<rect x="1296" y="653" width="1" height="23"/>
<rect x="1304" y="659" width="1" height="17"/>
<rect x="1312" y="664" width="1" height="12"/>
<rect x="1320" y="670" width="1" height="6"/>
<rect x="1328" y="674" width="1" height="2"/>
<rect x="1336" y="675" width="1" height="1"/>
<rect x="1344" y="675" width="1" height="1"/>
<rect x="1352" y="675" width="1" height="5"/>
<rect x="1360" y="675" width="1" height="2"/>
<rect x="1368" y="674" width="1" height="2"/>
<rect x="1376" y="675" width="1" height="1"/>
<rect x="1384" y="675" width="1" height="6"/>
<rect x="1392" y="675" width="1" height="8"/>
<rect x="1400" y="675" width="1" height="8"/>
<rect x="1408" y="675" width="1" height="7"/>
<rect x="1416" y="675" width="1" height="6"/>
</g>
<polyline points="0.0,739.7 8.5,736.5 16.5,734.7 24.5,731.5 32.5,726.4 40.6,719.7 48.6,713.9 56.6,707.2 64.6,701.4 72.6,697.7 80.6,691.4 88.6,685.6 96.6,681.4 104.6,677.6 112.6,676.4 120.7,673.6 128.7,673.4 136.7,673.4 144.7,673.4 152.7,673.4 160.7,673.4 168.7,674.1 176.7,674.4 184.7,674.4 192.7,674.4 200.8,674.4 208.8,675.1 216.8,677.6 224.8,678.9 232.8,681.4 240.8,683.9 248.8,685.6 256.8,686.9 264.8,687.1 272.8,687.1 280.9,685.9 288.9,683.1 296.9,679.4 304.9,673.4 312.9,669.6 320.9,665.1 328.9,660.6 336.9,655.9 344.9,651.4 352.9,650.1 361.0,649.3 369.0,649.3 377.0,649.3 385.0,649.1 393.0,648.3 401.0,647.1 409.0,646.3 417.0,645.8 424.5,645.1 432.5,644.3 440.5,642.1 448.5,641.6 456.5,641.3 464.6,641.3 472.6,641.8 480.6,642.6 488.6,642.6 496.6,643.1 504.6,645.1 512.6,648.1 520.6,650.9 528.6,654.6 536.6,655.9 544.7,658.4 552.7,659.4 560.7,660.9 568.7,662.1 576.7,663.1 584.7,662.6 592.7,662.1 600.7,660.9 608.7,660.1 616.7,660.1 624.8,658.9 632.8,658.1 640.8,656.4 648.8,653.9 656.8,653.4 664.8,652.1 672.8,651.9 680.8,650.9 688.8,650.1 696.8,650.1 704.9,649.3 712.9,649.1 720.9,648.1 728.9,647.1 736.9,647.1 744.9,646.3 752.9,646.3 760.9,646.3 768.9,645.3 776.9,645.3 785.0,645.3 793.0,646.3 801.0,646.3 809.0,645.1 817.0,644.3 825.0,643.3 833.0,642.1 841.0,640.1 848.5,639.6 856.5,637.6 864.5,636.3 872.5,634.3 880.5,631.3 888.6,629.1 896.6,628.3 904.6,627.1 912.6,626.1 920.6,624.6 928.6,623.1 936.6,621.3 944.6,619.6 952.6,617.6 960.6,615.8 968.7,613.8 976.7,610.1 984.7,606.8 992.7,604.5 1000.7,600.8 1008.7,597.0 1016.7,594.5 1024.7,593.3 1032.7,592.5 1040.7,592.5 1048.8,592.5 1056.8,592.5 1064.8,592.5 1072.8,593.3 1080.8,594.3 1088.8,595.5 1096.8,595.5 1104.8,595.0 1112.8,594.5 1120.8,593.3 1128.9,592.8 1136.9,592.5 1144.9,592.5 1152.9,592.5 1160.9,593.8 1168.9,595.5 1176.9,598.8 1184.9,603.8 1192.9,608.8 1200.9,615.1 1209.0,620.8 1217.0,626.8 1225.0,630.8 1233.0,634.6 1241.0,637.1 1249.0,639.3 1257.0,638.8 1265.0,636.3 1272.5,634.6 1280.5,634.6 1288.5,635.1 1296.5,635.8 1304.5,637.6 1312.6,640.1 1320.6,645.1 1328.6,649.6 1336.6,656.4 1344.6,660.6 1352.6,666.4 1360.6,669.6 1368.6,672.1 1376.6,674.6 1384.6,676.4 1392.7,677.6 1400.7,678.9 1408.7,679.6 1416.7,680.1" fill="none" stroke="#ff0000" stroke-width="1" stroke-dasharray="3 3" shape-rendering="crispEdges"/>
<line x1="1267.0" y1="633.8" x2="1386.5" y2="684.2" stroke="#ff0000" stroke-width="2.2"/><polygon points="1393.4,687.1 1383.2,686.9 1386.1,679.9" fill="#ff0000"/>
<line x1="1393.4" y1="687.1" x2="1417.8" y2="682.7" stroke="#ff0000" stroke-width="2.2"/><polygon points="1424.7,681.4 1416.5,686.8 1415.2,679.3" fill="#ff0000"/>
</g>
<g clip-path="url(#c3)">
<g shape-rendering="crispEdges" stroke="#c0c0c0" stroke-dasharray="3 3" stroke-dashoffset="1" stroke-width="1">
<line x1="0" y1="785.5" x2="1679" y2="785.5"/>
<line x1="0" y1="836.5" x2="1679" y2="836.5"/>
<line x1="0" y1="897.5" x2="1679" y2="897.5"/>
</g>
<polyline points="0.5,842.1 8.5,839.4 16.5,841.4 24.5,836.9 32.5,835.1 40.5,823.3 48.5,840.1 56.5,830.9 64.5,826.9 72.5,822.1 80.5,823.3 88.5,823.3 96.5,840.1 104.5,835.4 112.5,845.1 120.5,841.4 128.5,841.4 136.5,837.6 144.5,836.4 152.5,825.1 160.5,828.9 168.5,839.4 176.5,837.1 184.5,840.1 192.5,843.4 200.5,853.1 208.5,856.4 216.5,848.4 224.5,854.6 232.5,851.4 240.5,825.1 248.5,846.4 256.5,838.4 264.5,841.4 272.5,838.4 280.5,815.8 288.5,809.3 296.5,811.3 304.5,827.1 312.5,828.4 320.5,823.3 328.5,825.1 336.5,827.1 344.5,831.4 352.5,833.4 360.5,830.1 368.5,827.1 376.5,816.8 384.5,813.3 392.5,812.1 400.5,820.1 408.5,831.4 416.5,827.1 424.5,823.3 432.5,815.1 440.5,820.1 448.5,820.1 456.5,817.1 464.5,818.8 472.5,833.1 480.5,828.9 488.5,827.1 496.5,837.1 504.5,850.1 512.5,839.4 520.5,837.1 528.5,827.6 536.5,823.8 544.5,820.8 552.5,827.1 560.5,839.4 568.5,835.1 576.5,838.4 584.5,825.1 592.5,820.1 600.5,819.1 608.5,830.1 616.5,829.4 624.5,821.3 632.5,816.3 640.5,814.1 648.5,832.1 656.5,832.1 664.5,827.1 672.5,822.1 680.5,820.8 688.5,825.1 696.5,823.3 704.5,813.1 712.5,814.3 720.5,810.1 728.5,828.1 736.5,828.1 744.5,830.1 752.5,819.1 760.5,823.1 768.5,817.6 776.5,817.1 784.5,818.1 792.5,820.1 800.5,814.3 808.5,814.3 816.5,805.1 824.5,801.3 832.5,803.3 840.5,803.3 848.5,803.3 856.5,807.1 864.5,795.8 872.5,792.1 880.5,791.3 888.5,795.8 896.5,800.1 904.5,798.3 912.5,798.3 920.5,791.3 928.5,788.1 936.5,780.8 944.5,777.0 952.5,792.1 960.5,786.3 968.5,785.1 976.5,783.3 984.5,791.3 992.5,785.1 1000.5,779.3 1008.5,797.6 1016.5,802.6 1024.5,801.3 1032.5,801.3 1040.5,800.1 1048.5,799.1 1056.5,792.1 1064.5,792.1 1072.5,791.3 1080.5,788.1 1088.5,785.8 1096.5,783.8 1104.5,779.0 1112.5,780.3 1120.5,779.0 1128.5,788.3 1136.5,791.3 1144.5,786.3 1152.5,800.1 1160.5,814.3 1168.5,822.6 1176.5,821.1 1184.5,847.1 1192.5,849.4 1200.5,831.4 1208.5,820.1 1216.5,818.3 1224.5,820.1 1232.5,815.8 1240.5,807.1 1248.5,805.1 1256.5,804.1 1264.5,802.6 1272.5,825.2 1280.5,835.7 1288.5,845.5 1296.5,842.3 1304.5,842.3 1312.5,842.3 1320.5,849.7 1328.5,846.3 1336.5,849.7 1344.5,837.8 1352.5,841.8 1360.5,828.1 1368.5,835.7 1376.5,838.4 1384.5,851.5 1392.5,846.3 1400.5,848.4 1408.5,837.8 1416.5,829.2" fill="none" stroke="#1e90ff" stroke-width="1" shape-rendering="crispEdges"/>
</g>
<g class="bt" font-size="10.1" fill="#000">
<rect x="1680" y="44" width="2" height="1" fill="#000" shape-rendering="crispEdges"/><text x="1684.8" y="48" textLength="33.4" lengthAdjust="spacingAndGlyphs">153.575</text>
<rect x="1680" y="77" width="2" height="1" fill="#000" shape-rendering="crispEdges"/><text x="1684.8" y="81" textLength="33.4" lengthAdjust="spacingAndGlyphs">152.350</text>
<rect x="1680" y="110" width="2" height="1" fill="#000" shape-rendering="crispEdges"/><text x="1684.8" y="114" textLength="33.4" lengthAdjust="spacingAndGlyphs">151.125</text>
<rect x="1680" y="143" width="2" height="1" fill="#000" shape-rendering="crispEdges"/><text x="1684.8" y="147" textLength="33.4" lengthAdjust="spacingAndGlyphs">149.900</text>
<rect x="1680" y="176" width="2" height="1" fill="#000" shape-rendering="crispEdges"/><text x="1684.8" y="180" textLength="33.4" lengthAdjust="spacingAndGlyphs">148.675</text>
<rect x="1680" y="209" width="2" height="1" fill="#000" shape-rendering="crispEdges"/><text x="1684.8" y="213" textLength="33.4" lengthAdjust="spacingAndGlyphs">147.450</text>
<rect x="1680" y="242" width="2" height="1" fill="#000" shape-rendering="crispEdges"/><text x="1684.8" y="246" textLength="33.4" lengthAdjust="spacingAndGlyphs">146.225</text>
<rect x="1680" y="275" width="2" height="1" fill="#000" shape-rendering="crispEdges"/><text x="1684.8" y="279" textLength="33.4" lengthAdjust="spacingAndGlyphs">145.000</text>
<rect x="1680" y="308" width="2" height="1" fill="#000" shape-rendering="crispEdges"/><text x="1684.8" y="312" textLength="33.4" lengthAdjust="spacingAndGlyphs">143.775</text>
<rect x="1680" y="341" width="2" height="1" fill="#000" shape-rendering="crispEdges"/><text x="1684.8" y="345" textLength="33.4" lengthAdjust="spacingAndGlyphs">142.550</text>
<rect x="1680" y="374" width="2" height="1" fill="#000" shape-rendering="crispEdges"/><text x="1684.8" y="378" textLength="33.4" lengthAdjust="spacingAndGlyphs">141.325</text>
<rect x="1680" y="407" width="2" height="1" fill="#000" shape-rendering="crispEdges"/><text x="1684.8" y="411" textLength="33.4" lengthAdjust="spacingAndGlyphs">140.100</text>
<rect x="1680" y="440" width="2" height="1" fill="#000" shape-rendering="crispEdges"/><text x="1684.8" y="444" textLength="33.4" lengthAdjust="spacingAndGlyphs">138.875</text>
<rect x="1680" y="473" width="2" height="1" fill="#000" shape-rendering="crispEdges"/><text x="1684.8" y="477" textLength="33.4" lengthAdjust="spacingAndGlyphs">137.650</text>
<rect x="1680" y="506" width="2" height="1" fill="#000" shape-rendering="crispEdges"/><text x="1684.8" y="510" textLength="33.4" lengthAdjust="spacingAndGlyphs">136.425</text>
<rect x="1680" y="539" width="2" height="1" fill="#000" shape-rendering="crispEdges"/><text x="1684.8" y="543" textLength="33.4" lengthAdjust="spacingAndGlyphs">135.200</text>
<rect x="1680" y="572" width="2" height="1" fill="#000" shape-rendering="crispEdges"/><text x="1684.8" y="576" textLength="33.4" lengthAdjust="spacingAndGlyphs">133.975</text>
<text x="1683.1" y="588" textLength="22.8" lengthAdjust="spacingAndGlyphs">1.796</text>
<rect x="1680" y="579" width="1" height="1" fill="#000" shape-rendering="crispEdges"/>
<rect x="1680" y="675" width="1" height="1" fill="#000" shape-rendering="crispEdges"/><text x="1682.8" y="679" textLength="18.4" lengthAdjust="spacingAndGlyphs">0.00</text>
<text x="1682.8" y="744" textLength="31.4" lengthAdjust="spacingAndGlyphs">-1.3318</text>
<rect x="1680" y="746" width="1" height="1" fill="#000" shape-rendering="crispEdges"/>
<text x="1683.1" y="760" textLength="15" lengthAdjust="spacingAndGlyphs">100</text>
<rect x="1680" y="751" width="1" height="1" fill="#000" shape-rendering="crispEdges"/>
<text x="1682.8" y="789" textLength="10" lengthAdjust="spacingAndGlyphs">80</text>
<text x="1682.8" y="840" textLength="10" lengthAdjust="spacingAndGlyphs">50</text>
<text x="1682.2" y="901" textLength="10" lengthAdjust="spacingAndGlyphs">15</text>
<text x="1682.9" y="920" textLength="5" lengthAdjust="spacingAndGlyphs">0</text>
<rect x="1680" y="922" width="1" height="1" fill="#000" shape-rendering="crispEdges"/>
</g>
<rect x="1681" y="65" width="41" height="11" fill="#ff0000" shape-rendering="crispEdges"/><text x="1684.8" y="74" font-size="10.1" fill="#fff" stroke="#fff" stroke-width="0.25" textLength="33.4" lengthAdjust="spacingAndGlyphs">152.573</text>
<rect x="1681" y="86" width="41" height="11" fill="#ff0000" shape-rendering="crispEdges"/><text x="1684.8" y="95" font-size="10.1" fill="#fff" stroke="#fff" stroke-width="0.25" textLength="33.4" lengthAdjust="spacingAndGlyphs">151.795</text>
<rect x="1681" y="105" width="41" height="11" fill="#000000" shape-rendering="crispEdges"/><text x="1684.8" y="114" font-size="10.1" fill="#fff" stroke="#fff" stroke-width="0.25" textLength="33.4" lengthAdjust="spacingAndGlyphs">151.119</text>
<rect x="1681" y="118" width="41" height="11" fill="#1ecfcf" shape-rendering="crispEdges"/><text x="1684.8" y="127" font-size="10.1" fill="#fff" stroke="#fff" stroke-width="0.25" textLength="33.4" lengthAdjust="spacingAndGlyphs">150.610</text>
<rect x="1681" y="139" width="41" height="11" fill="#0000ff" shape-rendering="crispEdges"/><text x="1684.8" y="148" font-size="10.1" fill="#fff" stroke="#fff" stroke-width="0.25" textLength="33.4" lengthAdjust="spacingAndGlyphs">149.824</text>
<rect x="1681" y="161" width="41" height="11" fill="#0000ff" shape-rendering="crispEdges"/><text x="1684.8" y="170" font-size="10.1" fill="#fff" stroke="#fff" stroke-width="0.25" textLength="33.4" lengthAdjust="spacingAndGlyphs">149.007</text>
<g class="bt" font-size="10.1" fill="#000">
<rect x="-8" y="924" width="1" height="3" fill="#000" shape-rendering="crispEdges"/>
<text x="-9.3" y="935.8" textLength="51.2" lengthAdjust="spacingAndGlyphs">28 Sep 2020</text>
<rect x="56" y="924" width="1" height="3" fill="#000" shape-rendering="crispEdges"/>
<text x="54.7" y="935.8" textLength="46.6" lengthAdjust="spacingAndGlyphs">7 Oct 2020</text>
<rect x="120" y="924" width="1" height="3" fill="#000" shape-rendering="crispEdges"/>
<text x="118.7" y="935.8" textLength="51.3" lengthAdjust="spacingAndGlyphs">16 Oct 2020</text>
<rect x="184" y="924" width="1" height="3" fill="#000" shape-rendering="crispEdges"/>
<text x="182.7" y="935.8" textLength="50.9" lengthAdjust="spacingAndGlyphs">26 Oct 2020</text>
<rect x="248" y="924" width="1" height="3" fill="#000" shape-rendering="crispEdges"/>
<text x="246.7" y="935.8" textLength="48.7" lengthAdjust="spacingAndGlyphs">4 Nov 2020</text>
<rect x="312" y="924" width="1" height="3" fill="#000" shape-rendering="crispEdges"/>
<text x="310.7" y="935.8" textLength="53.3" lengthAdjust="spacingAndGlyphs">13 Nov 2020</text>
<rect x="376" y="924" width="1" height="3" fill="#000" shape-rendering="crispEdges"/>
<text x="374.7" y="935.8" textLength="53.3" lengthAdjust="spacingAndGlyphs">23 Nov 2020</text>
<rect x="440" y="924" width="1" height="3" fill="#000" shape-rendering="crispEdges"/>
<text x="438.7" y="935.8" textLength="46.5" lengthAdjust="spacingAndGlyphs">2 Dec 2020</text>
<rect x="504" y="924" width="1" height="3" fill="#000" shape-rendering="crispEdges"/>
<text x="502.7" y="935.8" textLength="51.7" lengthAdjust="spacingAndGlyphs">11 Dec 2020</text>
<rect x="568" y="924" width="1" height="3" fill="#000" shape-rendering="crispEdges"/>
<text x="566.7" y="935.8" textLength="52.0" lengthAdjust="spacingAndGlyphs">21 Dec 2020</text>
<rect x="632" y="924" width="1" height="3" fill="#000" shape-rendering="crispEdges"/>
<text x="630.7" y="935.8" textLength="52.0" lengthAdjust="spacingAndGlyphs">31 Dec 2020</text>
<rect x="696" y="924" width="1" height="3" fill="#000" shape-rendering="crispEdges"/>
<text x="694.7" y="935.8" textLength="49.5" lengthAdjust="spacingAndGlyphs">11 Jan 2021</text>
<rect x="760" y="924" width="1" height="3" fill="#000" shape-rendering="crispEdges"/>
<text x="758.7" y="935.8" textLength="49.5" lengthAdjust="spacingAndGlyphs">20 Jan 2021</text>
<rect x="824" y="924" width="1" height="3" fill="#000" shape-rendering="crispEdges"/>
<text x="822.7" y="935.8" textLength="49.5" lengthAdjust="spacingAndGlyphs">29 Jan 2021</text>
<rect x="888" y="924" width="1" height="3" fill="#000" shape-rendering="crispEdges"/>
<text x="886.7" y="935.8" textLength="47.0" lengthAdjust="spacingAndGlyphs">8 Feb 2021</text>
<rect x="952" y="924" width="1" height="3" fill="#000" shape-rendering="crispEdges"/>
<text x="950.7" y="935.8" textLength="51.7" lengthAdjust="spacingAndGlyphs">17 Feb 2021</text>
<rect x="1016" y="924" width="1" height="3" fill="#000" shape-rendering="crispEdges"/>
<text x="1014.7" y="935.8" textLength="51.7" lengthAdjust="spacingAndGlyphs">26 Feb 2021</text>
<rect x="1080" y="924" width="1" height="3" fill="#000" shape-rendering="crispEdges"/>
<text x="1078.7" y="935.8" textLength="47.0" lengthAdjust="spacingAndGlyphs">8 Mar 2021</text>
<rect x="1144" y="924" width="1" height="3" fill="#000" shape-rendering="crispEdges"/>
<text x="1142.7" y="935.8" textLength="51.5" lengthAdjust="spacingAndGlyphs">17 Mar 2021</text>
<rect x="1208" y="924" width="1" height="3" fill="#000" shape-rendering="crispEdges"/>
<text x="1206.7" y="935.8" textLength="51.9" lengthAdjust="spacingAndGlyphs">26 Mar 2021</text>
<rect x="1272" y="924" width="1" height="3" fill="#000" shape-rendering="crispEdges"/>
<text x="1270.7" y="935.8" textLength="45.5" lengthAdjust="spacingAndGlyphs">6 Apr 2021</text>
<rect x="1336" y="924" width="1" height="3" fill="#000" shape-rendering="crispEdges"/>
<text x="1334.7" y="935.8" textLength="49.9" lengthAdjust="spacingAndGlyphs">15 Apr 2021</text>
<rect x="1400" y="924" width="1" height="3" fill="#000" shape-rendering="crispEdges"/>
<text x="1398.7" y="935.8" textLength="50.7" lengthAdjust="spacingAndGlyphs">25 Apr 2021</text>
</g>
<text class="bt" x="7.3" y="34" font-size="9.9" fill="#000" textLength="209" lengthAdjust="spacingAndGlyphs" xml:space="preserve">GBPJPY-,Daily  150.315 151.230 150.133 151.119</text>
<polygon points="0,29.8 2.6,32.6 0,32.6" fill="#000"/>
<text class="bt" x="-4.2" y="589.8" font-size="10.1" fill="#000" textLength="134.2" lengthAdjust="spacingAndGlyphs">MACD(12,26,9) -0.0981 -0.0945</text>
<text class="bt" x="-5.3" y="762.6" font-size="10.1" fill="#000" textLength="68.8" lengthAdjust="spacingAndGlyphs">RSI(14) 54.8811</text>
</svg>
<div id="tb">
<svg width="1726" height="18" viewBox="0 0 1726 18" style="position:absolute;left:0;top:0;overflow:hidden">
<defs><linearGradient id="gplus" x1="0" y1="0" x2="0" y2="1"><stop offset="0" stop-color="#5fe35f"/><stop offset="1" stop-color="#0c9a0c"/></linearGradient><linearGradient id="ggold" x1="0" y1="0" x2="1" y2="1"><stop offset="0" stop-color="#fadc58"/><stop offset="1" stop-color="#c48810"/></linearGradient><linearGradient id="gblue" x1="0" y1="0" x2="0" y2="1"><stop offset="0" stop-color="#5aa6f2"/><stop offset="1" stop-color="#1558c0"/></linearGradient><radialGradient id="gred" cx="0.4" cy="0.3" r="0.8"><stop offset="0" stop-color="#ee5533"/><stop offset="1" stop-color="#cc2211"/></radialGradient><pattern id="chk" width="2" height="2" patternUnits="userSpaceOnUse"><rect width="2" height="2" fill="#f0f0f0"/><rect width="1" height="1" fill="#ffffff"/><rect x="1" y="1" width="1" height="1" fill="#ffffff"/></pattern></defs>
<rect x="-6" y="-5" width="9" height="17" fill="#fff" stroke="#3a72d8" stroke-width="1.2"/><rect x="-6" y="2" width="7" height="1" fill="#9dbcf0"/><rect x="-6" y="5" width="7" height="1" fill="#9dbcf0"/><rect x="-6" y="8" width="7" height="1" fill="#9dbcf0"/>
<rect x="15.5" y="-4" width="11" height="15" fill="#f7f7f7" stroke="#9a9a9a" stroke-width="1"/><line x1="27.2" y1="10.6" x2="31.6" y2="14.6" stroke="#c79a24" stroke-width="2.6" stroke-linecap="round"/><circle cx="23.4" cy="6.3" r="5" fill="#cfe0f2" fill-opacity="0.85" stroke="#86aee0" stroke-width="1.3"/><rect x="21.8" y="3" width="2.2" height="5.5" fill="#8fa6c4" opacity="0.8"/>
<rect x="40" y="0" width="1" height="15.5" fill="#a3a3a3" shape-rendering="crispEdges"/>
<path d="M50.5,-3 h8 l3,3 v11.5 h-11 z" fill="#fdfdfd" stroke="#8a8a8a" stroke-width="1"/><rect x="52.5" y="1" width="5" height="1" fill="#999"/><rect x="52.5" y="4" width="4" height="1" fill="#999"/>
<path d="M58,4 h4 v4 h4 v4 h-4 v4 h-4 v-4 h-4 v-4 h4 z" fill="url(#gplus)" stroke="#0a8a0a" stroke-width="0.8"/>
<path d="M117,8.3 L122.2,-1 L127.5,-1 L132.4,5.8 L125.2,13.8 Z" fill="#a8700c"/><path d="M117.2,7.6 L122.4,-1.5 L127.3,-1.5 L131.6,4.6 L124.6,11.8 Z" fill="url(#ggold)"/><path d="M118,8.6 L124.8,12.9 L131.8,5.6" fill="none" stroke="#f0d890" stroke-width="0.7"/>
<rect x="147.3" y="-3" width="10.5" height="10" fill="#2a8cf0"/><rect x="149.2" y="-3" width="0.9" height="9" fill="#bfe0ff"/><rect x="151.5" y="1.6" width="4.6" height="1.2" fill="#d8eeff"/><rect x="151.5" y="4" width="4.6" height="1" fill="#9cccff"/><path d="M148.2,13.3 C144.6,13.3 144.6,8.2 148.2,8 C148.6,5.4 152.6,4.6 154,7 C156,5.6 158.6,6.6 158.6,8.6 C161.6,8.8 161.6,13.3 158.4,13.3 Z" fill="#f2f5fa" stroke="#5f7fb8" stroke-width="1"/><path d="M147.2,12.6 h12" stroke="#4866a4" stroke-width="1.2"/>
<g fill="none" stroke-linecap="round"><path d="M180.9,5.7 L184.3,-1.5 A8,8 0 0 1 180.9,13.7 Z" fill="#8cc894" stroke="#5aa868" stroke-width="0.7" opacity="0.85"/><path d="M183.4,0.4 A5.8,5.8 0 0 1 182.6,11.2" stroke="#cfe9d0" stroke-width="1"/><path d="M177.6,8.6 A4.4,4.4 0 0 1 177.6,2.8" stroke="#4a7fe0" stroke-width="1.2"/><path d="M175.2,11.2 A8,8 0 0 1 175.2,0.2" stroke="#7aa2ea" stroke-width="1.2"/><path d="M179,13.2 A8,8 0 0 1 176.4,12.2" stroke="#9ab8ee" stroke-width="1"/><circle cx="180.8" cy="5.6" r="1.9" fill="#2458d6" stroke="none"/><line x1="181" y1="6.2" x2="181" y2="13.4" stroke="#18a028" stroke-width="1.3" stroke-linecap="butt"/></g>
<path d="M200.4,4.6 L215.6,4.6 L210.4,13.6 L207.2,13.6 Z" fill="#f6d23a" stroke="#c99e18" stroke-width="0.7"/><path d="M200.4,4.6 L207.2,13.6 L209,13.6 L204.5,4.6 Z" fill="#ffe77a" opacity="0.8"/><ellipse cx="207.9" cy="3" rx="8" ry="2.6" fill="#3f9bdc" stroke="#2b7fbe" stroke-width="0.6"/><path d="M203,2.4 C203,-3 213,-3 213,2.4 Z" fill="#5ab4ec"/><circle cx="212.4" cy="9.6" r="4" fill="#dc2410"/><rect x="211.1" y="8.3" width="2.7" height="2.7" fill="#fff"/>
<rect x="276" y="0" width="1" height="18" fill="#a3a3a3" shape-rendering="crispEdges"/>
<rect x="280" y="0" width="3" height="1" fill="#b4b4b4" shape-rendering="crispEdges"/><rect x="280" y="2" width="3" height="1" fill="#b4b4b4" shape-rendering="crispEdges"/><rect x="280" y="4" width="3" height="1" fill="#b4b4b4" shape-rendering="crispEdges"/><rect x="280" y="6" width="3" height="1" fill="#b4b4b4" shape-rendering="crispEdges"/><rect x="280" y="8" width="3" height="1" fill="#b4b4b4" shape-rendering="crispEdges"/><rect x="280" y="10" width="3" height="1" fill="#b4b4b4" shape-rendering="crispEdges"/><rect x="280" y="12" width="3" height="1" fill="#b4b4b4" shape-rendering="crispEdges"/><rect x="280" y="14" width="3" height="1" fill="#b4b4b4" shape-rendering="crispEdges"/>
<g fill="#484848" shape-rendering="crispEdges"><rect x="294" y="0" width="1" height="14"/><rect x="292" y="11" width="13" height="1"/><rect x="293" y="1" width="3" height="1"/><rect x="304" y="10" width="1" height="3"/><rect x="305" y="11" width="1" height="1"/></g>
<path d="M300.6,1.8 h2.6 M300.6,1.8 V8.6 M300.6,8.6 h-2.4" stroke="#1c9a1c" stroke-width="1.3" fill="none"/>
<rect x="314" y="0" width="1" height="15.5" fill="#a3a3a3" shape-rendering="crispEdges"/>
<rect x="315.4" y="0" width="23.4" height="15.5" fill="url(#chk)"/>
<g fill="#484848" shape-rendering="crispEdges"><rect x="322" y="0" width="1" height="14"/><rect x="320" y="11" width="13" height="1"/><rect x="321" y="1" width="3" height="1"/><rect x="332" y="10" width="1" height="3"/><rect x="333" y="11" width="1" height="1"/></g>
<line x1="328.4" y1="0" x2="328.4" y2="9.6" stroke="#1c9a1c" stroke-width="1.2"/><rect x="326.2" y="-2" width="4.4" height="9.4" fill="#3fd63f" stroke="#1c9a1c" stroke-width="0.9"/>
<g fill="#484848" shape-rendering="crispEdges"><rect x="350" y="0" width="1" height="14"/><rect x="348" y="11" width="13" height="1"/><rect x="349" y="1" width="3" height="1"/><rect x="360" y="10" width="1" height="3"/><rect x="361" y="11" width="1" height="1"/></g>
<path d="M349.2,8.8 C352,6 353.5,3 355.2,3 C357,3 358.5,6.3 361,7.2" stroke="#2a9a2a" stroke-width="1.2" fill="none"/>
<rect x="371" y="0" width="1" height="15.5" fill="#a3a3a3" shape-rendering="crispEdges"/>
<line x1="390.2" y1="8" x2="394.7" y2="12.2" stroke="#a8861e" stroke-width="3.4" stroke-linecap="round"/><line x1="390.2" y1="8" x2="394.7" y2="12.2" stroke="#ecca44" stroke-width="2" stroke-linecap="round"/><circle cx="385.9" cy="3.7" r="5.4" fill="#cfe3f7" stroke="#3f7fd8" stroke-width="1.4"/><rect x="382.9" y="3" width="6" height="1.6" fill="#2f6fcf"/><rect x="385.09999999999997" y="0.7" width="1.6" height="6" fill="#2f6fcf"/>
<line x1="418.90000000000003" y1="8" x2="423.40000000000003" y2="12.2" stroke="#a8861e" stroke-width="3.4" stroke-linecap="round"/><line x1="418.90000000000003" y1="8" x2="423.40000000000003" y2="12.2" stroke="#ecca44" stroke-width="2" stroke-linecap="round"/><circle cx="414.6" cy="3.7" r="5.4" fill="#cfe3f7" stroke="#3f7fd8" stroke-width="1.4"/><rect x="411.6" y="3" width="6" height="1.6" fill="#2f6fcf"/>
<rect x="436.3" y="-1.5" width="7.4" height="7.2" fill="#4aa52e"/><rect x="437.6" y="1.1" width="4.8" height="3.2" fill="#fff" opacity="0.9"/><rect x="438.5" y="2.1" width="3" height="1" fill="#4aa52e" opacity="0.7"/>
<rect x="444.3" y="-1.5" width="7.4" height="7.2" fill="#2e6fe0"/><rect x="445.6" y="1.1" width="4.8" height="3.2" fill="#fff" opacity="0.9"/><rect x="446.5" y="2.1" width="3" height="1" fill="#2e6fe0" opacity="0.7"/>
<rect x="436.3" y="6.4" width="7.4" height="7.2" fill="#2e6fe0"/><rect x="437.6" y="9.0" width="4.8" height="3.2" fill="#fff" opacity="0.9"/><rect x="438.5" y="10.0" width="3" height="1" fill="#2e6fe0" opacity="0.7"/>
<rect x="444.3" y="6.4" width="7.4" height="7.2" fill="#4aa52e"/><rect x="445.6" y="9.0" width="4.8" height="3.2" fill="#fff" opacity="0.9"/><rect x="446.5" y="10.0" width="3" height="1" fill="#4aa52e" opacity="0.7"/>
<rect x="461" y="0" width="1" height="15.5" fill="#a3a3a3" shape-rendering="crispEdges"/>
<rect x="466" y="0" width="1" height="15.5" fill="#a3a3a3" shape-rendering="crispEdges"/>
<rect x="467" y="0" width="23.5" height="15.5" fill="url(#chk)"/>
<g fill="#484848" shape-rendering="crispEdges"><rect x="474" y="0" width="1" height="14"/><rect x="472" y="11" width="13" height="1"/><rect x="473" y="1" width="3" height="1"/><rect x="484" y="10" width="1" height="3"/><rect x="485" y="11" width="1" height="1"/></g>
<polygon points="478.9,2.7 478.9,8.5 483,5.6" fill="#66dd66" stroke="#1c9a1c" stroke-width="0.9"/>
<rect x="494" y="0" width="1" height="15.5" fill="#a3a3a3" shape-rendering="crispEdges"/>
<rect x="495" y="0" width="23.5" height="15.5" fill="url(#chk)"/>
<g fill="#484848" shape-rendering="crispEdges"><rect x="502" y="0" width="1" height="14"/><rect x="500" y="11" width="13" height="1"/><rect x="501" y="1" width="3" height="1"/><rect x="512" y="10" width="1" height="3"/><rect x="513" y="11" width="1" height="1"/></g>
<line x1="508.7" y1="0" x2="508.7" y2="9.6" stroke="#1f6fb5" stroke-width="1.2"/><path d="M514,5.5 H510 M512,3.3 L509.6,5.5 L512,7.7 Z" stroke="#d9531e" stroke-width="1" fill="#d9531e"/>
<rect x="523" y="0" width="1" height="15.5" fill="#a3a3a3" shape-rendering="crispEdges"/>
<path d="M533.5,-3 h7.5 l3,3 v11.5 h-10.5 z" fill="#fdfdfd" stroke="#8a8a8a" stroke-width="1"/><rect x="535.5" y="2" width="3" height="4" fill="none" stroke="#777" stroke-width="0.8"/>
<path d="M541,4.199999999999999 h4 v4 h4 v4 h-4 v4 h-4 v-4 h-4 v-4 h4 z" fill="url(#gplus)" stroke="#0a8a0a" stroke-width="0.8"/>
<polygon points="555,5 560.4,5 557.7,8" fill="#000"/>
<circle cx="578.8" cy="5.6" r="6.6" fill="#fff" stroke="url(#gblue)" stroke-width="2.3"/><circle cx="578.8" cy="5.6" r="7.7" fill="none" stroke="#1550b0" stroke-width="0.6"/><path d="M578.8,1.5 V5.8 H581.6" stroke="#333" stroke-width="1.1" fill="none"/>
<polygon points="594,5 599.4,5 596.7,8" fill="#000"/>
<rect x="610.5" y="-2" width="15" height="14.3" fill="#fff" stroke="#3a7bd5" stroke-width="1.2"/><rect x="610.5" y="-2" width="15" height="3" fill="#4d8fe6"/><rect x="610.5" y="7" width="15" height="1" fill="#3a7bd5"/><path d="M612.2,5.3 L615,4.8 L617.5,3.5 L620,4.3 L623.8,3.4" stroke="#b8220f" stroke-width="1.3" fill="none"/><path d="M612.8,10.6 L615.5,9.8 L617.5,10.5 L620.5,8.6 L623.6,10.4" stroke="#1c9a1c" stroke-width="1.3" fill="none"/>
<polygon points="632.8,5 638.1999999999999,5 635.5,8" fill="#000"/>
<rect x="644" y="0" width="1" height="18" fill="#a3a3a3" shape-rendering="crispEdges"/>
<rect x="648" y="0" width="3" height="1" fill="#b4b4b4" shape-rendering="crispEdges"/><rect x="648" y="2" width="3" height="1" fill="#b4b4b4" shape-rendering="crispEdges"/><rect x="648" y="4" width="3" height="1" fill="#b4b4b4" shape-rendering="crispEdges"/><rect x="648" y="6" width="3" height="1" fill="#b4b4b4" shape-rendering="crispEdges"/><rect x="648" y="8" width="3" height="1" fill="#b4b4b4" shape-rendering="crispEdges"/><rect x="648" y="10" width="3" height="1" fill="#b4b4b4" shape-rendering="crispEdges"/><rect x="648" y="12" width="3" height="1" fill="#b4b4b4" shape-rendering="crispEdges"/><rect x="648" y="14" width="3" height="1" fill="#b4b4b4" shape-rendering="crispEdges"/>
<rect x="654" y="0" width="1" height="15.5" fill="#a3a3a3" shape-rendering="crispEdges"/>
<rect x="655" y="0" width="24" height="15.5" fill="url(#chk)"/>
<path d="M661.8,-4 L661.8,9 L664.6,6.6 L667.2,12.8 L669,12 L666.5,6 L670.3,6 Z" fill="#4a4a4a"/>
<g stroke="#505050" stroke-width="1" shape-rendering="crispEdges"><line x1="694.5" y1="0" x2="694.5" y2="14"/><line x1="686" y1="6.5" x2="702" y2="6.5"/></g>
<rect x="711" y="0" width="1" height="15.5" fill="#a3a3a3" shape-rendering="crispEdges"/>
<g stroke="#505050" stroke-width="1.1"><line x1="728.5" y1="0" x2="728.5" y2="13" shape-rendering="crispEdges"/><line x1="751" y1="6.5" x2="763" y2="6.5" shape-rendering="crispEdges"/><line x1="778.9" y1="12.9" x2="791" y2="0.8"/></g>
<g stroke="#404040" stroke-width="1.3" fill="none"><line x1="805.4" y1="8.8" x2="815" y2="-0.4"/><line x1="808" y1="12.8" x2="818.6" y2="3"/><path d="M808,6.4 l2.4,4 M810.2,4.3 l2.4,4 M812.4,2.2 l2.4,4 M814.6,0.1 l2.4,4 M806.6,10.6 l6,-5.8 M809,9 l6,-5.8" stroke-width="1.1"/></g>
<text x="815.6" y="14.9" font-size="6.6" font-weight="bold" fill="#333" font-family="Liberation Sans, sans-serif">E</text>
<g stroke="#505050" stroke-width="1" stroke-dasharray="1 1" shape-rendering="crispEdges"><line x1="834" y1="2.5" x2="847.2" y2="2.5"/><line x1="834" y1="6.5" x2="847.2" y2="6.5"/><line x1="834" y1="10.5" x2="843" y2="10.5"/></g>
<text x="843.8" y="14.9" font-size="6.6" font-weight="bold" fill="#333" font-family="Liberation Sans, sans-serif">F</text>
<text x="864.2" y="10.9" font-size="12" fill="#505050" stroke="#505050" stroke-width="0.6" font-family="Liberation Sans, sans-serif">A</text>
<rect x="891.5" y="-1" width="11" height="13.5" fill="none" stroke="#505050" stroke-width="1" stroke-dasharray="1 1" shape-rendering="crispEdges"/>
<text x="893" y="10.9" font-size="10.8" fill="#505050" stroke="#505050" stroke-width="0.6" font-family="Liberation Sans, sans-serif">T</text>
<polygon points="921.8,-1 925.2,2 921.8,5 918.4,2" fill="#555"/><polygon points="928.4,7 931.8,10 928.4,13 925,10" fill="#555"/><path d="M920.6,7.4 L922.4,9.2 L927,3.6" stroke="#555" stroke-width="1.2" fill="none"/>
<polygon points="938.8,5 944.1999999999999,5 941.5,8" fill="#000"/>
<rect x="950" y="0" width="1" height="18" fill="#a3a3a3" shape-rendering="crispEdges"/>
<rect x="954" y="0" width="3" height="1" fill="#b4b4b4" shape-rendering="crispEdges"/><rect x="954" y="2" width="3" height="1" fill="#b4b4b4" shape-rendering="crispEdges"/><rect x="954" y="4" width="3" height="1" fill="#b4b4b4" shape-rendering="crispEdges"/><rect x="954" y="6" width="3" height="1" fill="#b4b4b4" shape-rendering="crispEdges"/><rect x="954" y="8" width="3" height="1" fill="#b4b4b4" shape-rendering="crispEdges"/><rect x="954" y="10" width="3" height="1" fill="#b4b4b4" shape-rendering="crispEdges"/><rect x="954" y="12" width="3" height="1" fill="#b4b4b4" shape-rendering="crispEdges"/><rect x="954" y="14" width="3" height="1" fill="#b4b4b4" shape-rendering="crispEdges"/>
<rect x="1128" y="0" width="1" height="15.5" fill="#a3a3a3" shape-rendering="crispEdges"/>
<rect x="1129" y="0" width="24" height="15.5" fill="url(#chk)"/>
<rect x="1211" y="0" width="1" height="18" fill="#a3a3a3" shape-rendering="crispEdges"/>
<text x="965.1" y="9.7" font-size="9" fill="#404040" font-family="Liberation Sans, sans-serif" textLength="13.1" lengthAdjust="spacingAndGlyphs">M1</text>
<text x="993.3" y="9.7" font-size="9" fill="#404040" font-family="Liberation Sans, sans-serif" textLength="13.1" lengthAdjust="spacingAndGlyphs">M5</text>
<text x="1019.4" y="9.7" font-size="9" fill="#404040" font-family="Liberation Sans, sans-serif" textLength="17.9" lengthAdjust="spacingAndGlyphs">M15</text>
<text x="1047.3" y="9.7" font-size="9" fill="#404040" font-family="Liberation Sans, sans-serif" textLength="17.9" lengthAdjust="spacingAndGlyphs">M30</text>
<text x="1078.4" y="9.7" font-size="9" fill="#404040" font-family="Liberation Sans, sans-serif" textLength="11.8" lengthAdjust="spacingAndGlyphs">H1</text>
<text x="1104.9" y="9.7" font-size="9" fill="#404040" font-family="Liberation Sans, sans-serif" textLength="13.1" lengthAdjust="spacingAndGlyphs">H4</text>
<text x="1134.1" y="9.7" font-size="9" fill="#404040" font-family="Liberation Sans, sans-serif" textLength="12.0" lengthAdjust="spacingAndGlyphs">D1</text>
<text x="1161.7" y="9.7" font-size="9" fill="#404040" font-family="Liberation Sans, sans-serif" textLength="14.5" lengthAdjust="spacingAndGlyphs">W1</text>
<text x="1188.1" y="9.7" font-size="9" fill="#404040" font-family="Liberation Sans, sans-serif" textLength="15.3" lengthAdjust="spacingAndGlyphs">MN</text>
<line x1="1679.2" y1="6.4" x2="1674" y2="10.8" stroke="#2a5fd0" stroke-width="2.3" stroke-linecap="round"/><circle cx="1682" cy="3.4" r="3.9" fill="#fff" stroke="#2a5fd0" stroke-width="1.3"/>
<path d="M1699,8 a7,5 0 0 1 14,0 a7,5 0 0 1 -9,4.6 l-2.6,2 l0.4,-2.8 a7,5 0 0 1 -2.8,-3.8 z" fill="#e6e6e6" stroke="#b0b0b0" stroke-width="0.8"/>
<circle cx="1712.5" cy="3.2" r="8.5" fill="url(#gred)"/>
<text x="1708.8" y="7.6" font-size="13" font-weight="bold" fill="#fff" font-family="Liberation Serif, serif">1</text>
</svg>
<span class="t" style="left:68.6px;top:-0.6px;letter-spacing:0px">新订单</span>
<span class="t" style="left:221.6px;top:-0.6px;letter-spacing:-0.45px">自动交易</span>
</div><div id="tbl1"></div><div id="tbl2"></div><div id="redge"></div>
<div id="oct">
<div style="left:0;top:0;width:47px;height:24px;background:linear-gradient(#5656f0,#3636d6)"></div>
<div style="left:0;top:22.6px;width:43px;height:1px;background:#8c8cf6"></div>
<div style="left:162px;top:0;width:52px;height:24px;background:linear-gradient(#5656f0,#3636d6)"></div>
<div style="left:166px;top:22.6px;width:44px;height:1px;background:#8c8cf6"></div>
<div style="left:0;top:24px;width:104px;height:40px;background:linear-gradient(#3c3ce2,#1c1cc4 45%,#0a0aae)"></div>
<div style="left:106px;top:24px;width:108px;height:40px;background:linear-gradient(#3c3ce2,#1c1cc4 45%,#0a0aae)"></div>
<div style="left:48.5px;top:0.3px;width:111.5px;height:21.4px;background:#fff;border:1px solid #b4b4b4"></div>
<div style="left:50px;top:1.2px;width:20px;height:19.6px;background:linear-gradient(#f4f4f4,#e4e4e4 48%,#d2d2d2 52%,#cdcdcd);border:1px solid #adadad"></div>
<div style="left:138.6px;top:1.2px;width:20.4px;height:19.6px;background:linear-gradient(#f4f4f4,#e4e4e4 48%,#d2d2d2 52%,#cdcdcd);border:1px solid #adadad"></div>
<svg width="214" height="64" style="position:absolute;left:0;top:0"><polygon points="57.2,9.6 61.8,9.6 59.5,12.4" fill="#4a64b8"/><polygon points="146.2,12.2 150.8,12.2 148.5,9.4" fill="#4a64b8"/></svg>
<div style="left:100px;top:3.6px;width:34.6px;text-align:right;font-size:12.2px;line-height:14px;color:#222">1.00</div>
<div style="left:7.4px;top:4.4px;font-size:11.2px;line-height:14px;color:#fff;letter-spacing:-0.45px">SELL</div>
<div style="left:175.4px;top:4.4px;font-size:11.4px;line-height:14px;color:#fff;letter-spacing:0px">BUY</div>
<div style="left:18.4px;top:43.6px;font-size:12.2px;line-height:14px;color:#fff;font-weight:bold">151</div>
<div style="left:42.4px;top:25px;font-size:32.5px;line-height:36px;color:#fff;letter-spacing:1.6px">11</div>
<div style="left:82.4px;top:29.4px;font-size:11.4px;line-height:12px;color:#fff;font-weight:bold">9</div>
<div style="left:128.4px;top:43.6px;font-size:12.2px;line-height:14px;color:#fff;font-weight:bold">151</div>
<div style="left:153.4px;top:25px;font-size:32.5px;line-height:36px;color:#fff;letter-spacing:-1.2px">33</div>
<div style="left:193px;top:29.4px;font-size:11.4px;line-height:12px;color:#fff;font-weight:bold">8</div>
</div>
</body></html>
